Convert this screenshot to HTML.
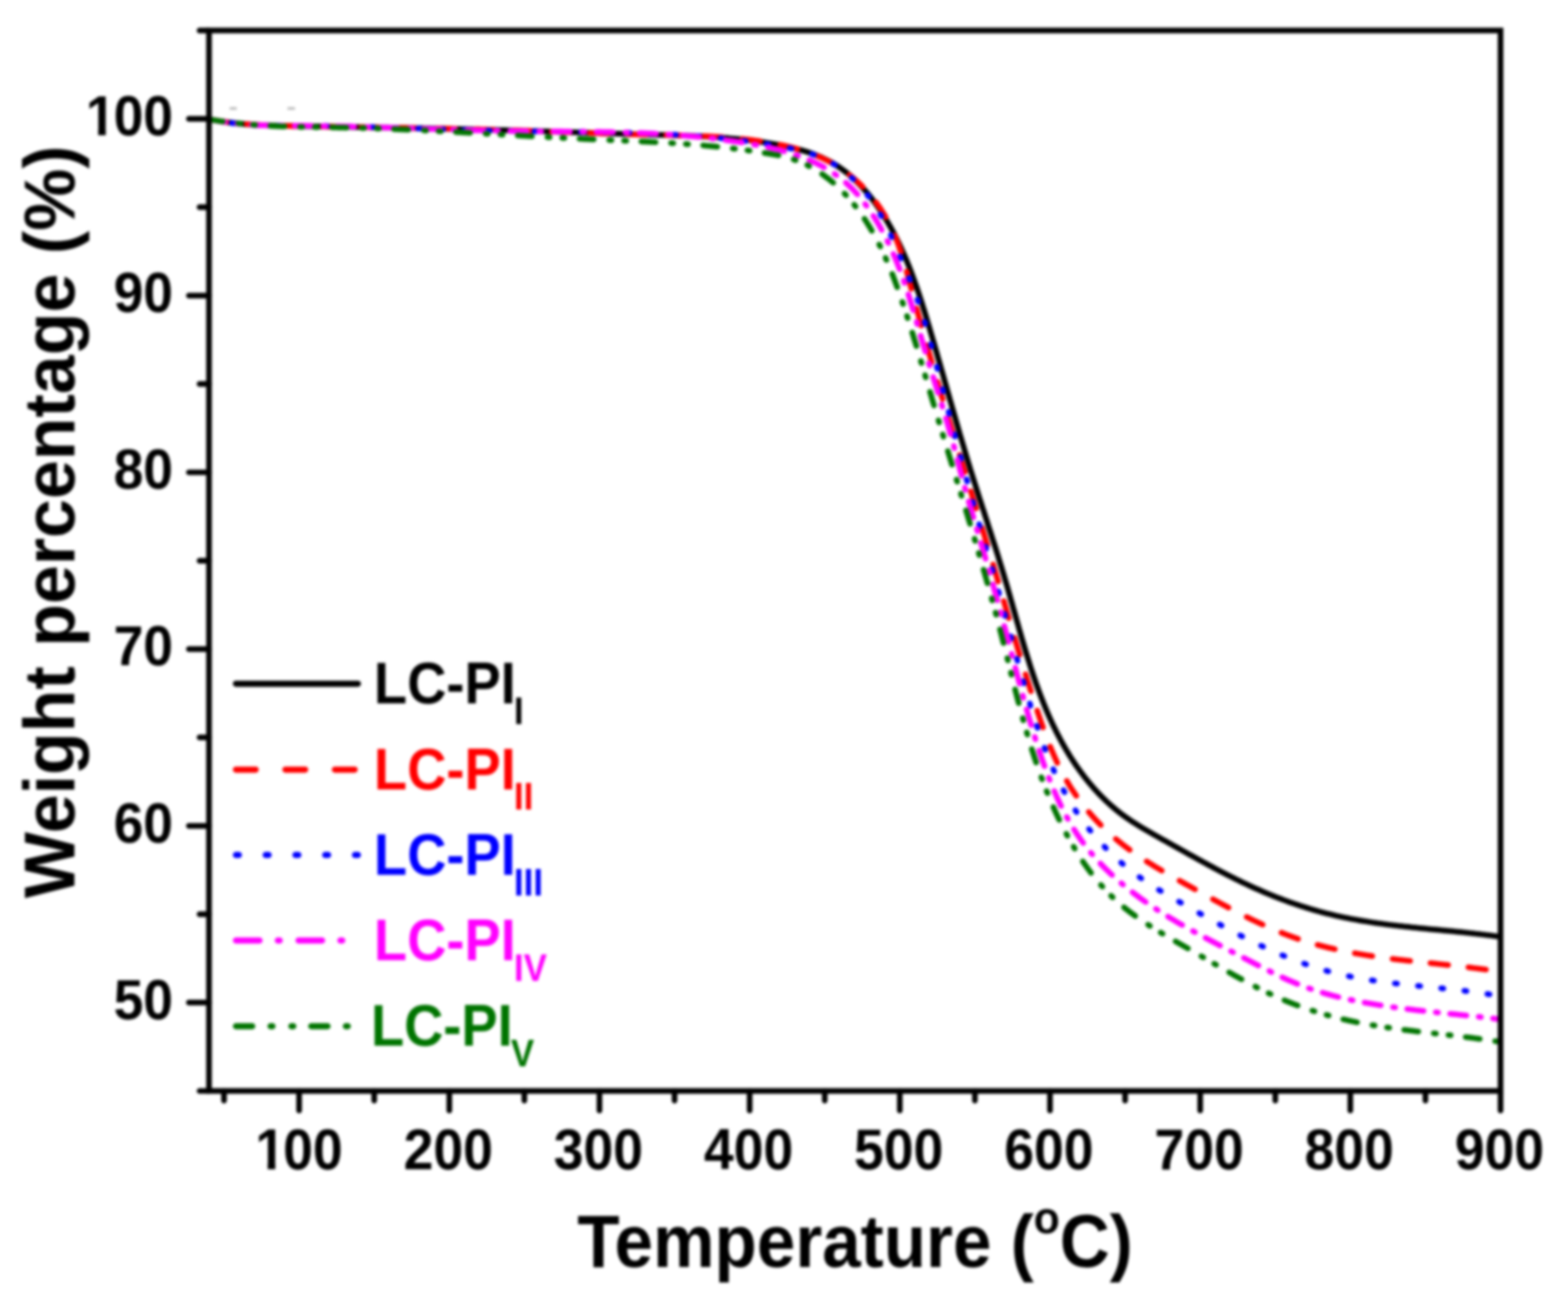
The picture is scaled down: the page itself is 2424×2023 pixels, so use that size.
<!DOCTYPE html><html><head><meta charset="utf-8"><title>TGA curves of LC-PI films</title><style>
html,body{margin:0;padding:0;background:#fff;}body{width:2424px;height:2023px;overflow:hidden;}svg{display:block;}svg{filter:blur(2.2px);}
text{font-family:"Liberation Sans", Arial, sans-serif;font-weight:bold;}
</style></head><body>
<svg width="2424" height="2023" viewBox="0 0 2424 2023">
<rect width="2424" height="2023" fill="#fff"/>
<defs><clipPath id="pc"><rect x="323.1" y="27.1" width="1996.6" height="1658.9"/></clipPath></defs>
<g clip-path="url(#pc)" fill="none" stroke-width="8.7" stroke-linecap="round" stroke-linejoin="round">
<path d="M322.8 184.1 L325.7 184.7 L328.7 185.2 L331.6 185.8 L334.5 186.3 L337.5 186.8 L340.4 187.3 L343.4 187.7 L346.3 188.1 L349.3 188.6 L352.2 189.0 L355.2 189.3 L358.2 189.7 L361.1 190.0 L364.1 190.4 L367.1 190.7 L370.1 191.0 L373.0 191.2 L376.0 191.5 L379.0 191.8 L382.0 192.0 L385.0 192.2 L388.0 192.4 L390.9 192.6 L393.9 192.8 L396.9 193.0 L399.9 193.1 L402.9 193.3 L405.9 193.4 L408.9 193.6 L411.9 193.7 L414.9 193.8 L417.9 193.9 L420.9 194.0 L423.9 194.1 L426.9 194.2 L429.9 194.3 L433.0 194.4 L436.0 194.4 L439.0 194.5 L442.0 194.6 L445.0 194.6 L448.0 194.7 L451.0 194.7 L454.0 194.8 L457.0 194.8 L460.0 194.9 L463.0 194.9 L466.1 195.0 L469.1 195.0 L472.1 195.1 L475.1 195.1 L478.1 195.2 L481.1 195.2 L484.1 195.3 L487.1 195.3 L490.1 195.4 L493.1 195.4 L496.1 195.5 L499.1 195.5 L502.1 195.6 L505.2 195.6 L508.2 195.7 L511.2 195.7 L514.2 195.8 L517.2 195.8 L520.2 195.9 L523.2 195.9 L526.2 196.0 L529.2 196.0 L532.2 196.1 L535.2 196.1 L538.2 196.2 L541.2 196.2 L544.2 196.3 L547.2 196.3 L550.2 196.4 L553.2 196.4 L556.2 196.5 L559.2 196.5 L562.2 196.6 L565.2 196.6 L568.2 196.7 L571.2 196.7 L574.2 196.8 L577.2 196.8 L580.2 196.9 L583.2 196.9 L586.2 197.0 L589.2 197.0 L592.2 197.1 L595.2 197.1 L598.2 197.2 L601.2 197.2 L604.2 197.3 L607.3 197.4 L610.3 197.4 L613.3 197.5 L616.3 197.5 L619.3 197.6 L622.3 197.6 L625.3 197.7 L628.3 197.7 L631.3 197.8 L634.3 197.9 L637.3 197.9 L640.3 198.0 L643.3 198.0 L646.3 198.1 L649.3 198.1 L652.3 198.2 L655.3 198.3 L658.3 198.3 L661.3 198.4 L664.3 198.4 L667.3 198.5 L670.3 198.6 L673.3 198.6 L676.3 198.7 L679.3 198.8 L682.3 198.8 L685.3 198.9 L688.3 198.9 L691.3 199.0 L694.3 199.1 L697.3 199.1 L700.3 199.2 L703.3 199.3 L706.3 199.3 L709.3 199.4 L712.3 199.5 L715.3 199.5 L718.3 199.6 L721.3 199.7 L724.3 199.8 L727.3 199.8 L730.3 199.9 L733.3 200.0 L736.3 200.0 L739.3 200.1 L742.3 200.2 L745.3 200.3 L748.3 200.3 L751.3 200.4 L754.3 200.5 L757.3 200.6 L760.3 200.6 L763.3 200.7 L766.3 200.8 L769.3 200.9 L772.3 201.0 L775.3 201.0 L778.3 201.1 L781.3 201.2 L784.3 201.3 L787.3 201.4 L790.3 201.5 L793.3 201.5 L796.3 201.6 L799.3 201.7 L802.3 201.8 L805.3 201.9 L808.3 202.0 L811.3 202.1 L814.3 202.2 L817.3 202.2 L820.4 202.3 L823.4 202.4 L826.4 202.5 L829.4 202.6 L832.4 202.7 L835.4 202.8 L838.4 202.9 L841.4 203.0 L844.4 203.1 L847.4 203.2 L850.4 203.3 L853.4 203.4 L856.4 203.5 L859.4 203.6 L862.4 203.7 L865.4 203.8 L868.4 203.8 L871.4 203.9 L874.5 204.0 L877.5 204.1 L880.5 204.2 L883.5 204.3 L886.5 204.4 L889.5 204.5 L892.5 204.6 L895.5 204.7 L898.5 204.8 L901.5 204.9 L904.5 205.0 L907.5 205.1 L910.5 205.2 L913.5 205.3 L916.5 205.4 L919.5 205.5 L922.5 205.6 L925.5 205.7 L928.5 205.8 L931.5 205.9 L934.5 206.0 L937.5 206.1 L940.5 206.1 L943.5 206.2 L946.5 206.3 L949.5 206.4 L952.5 206.5 L955.5 206.6 L958.5 206.7 L961.5 206.8 L964.5 206.9 L967.5 207.0 L970.5 207.1 L973.5 207.1 L976.5 207.2 L979.5 207.3 L982.5 207.4 L985.5 207.5 L988.5 207.6 L991.5 207.7 L994.5 207.7 L997.5 207.8 L1000.5 207.9 L1003.5 208.0 L1006.5 208.1 L1009.5 208.1 L1012.5 208.2 L1015.5 208.3 L1018.4 208.4 L1021.4 208.5 L1024.4 208.5 L1027.4 208.6 L1030.4 208.7 L1033.4 208.8 L1036.4 208.9 L1039.4 209.0 L1042.4 209.1 L1045.4 209.1 L1048.3 209.2 L1051.3 209.3 L1054.3 209.4 L1057.3 209.6 L1060.3 209.7 L1063.3 209.8 L1066.3 209.9 L1069.3 210.0 L1072.2 210.1 L1075.2 210.3 L1078.2 210.4 L1081.2 210.6 L1084.2 210.7 L1087.2 210.9 L1090.2 211.0 L1093.2 211.2 L1096.1 211.4 L1099.1 211.5 L1102.1 211.7 L1105.1 211.9 L1108.1 212.1 L1111.1 212.3 L1114.1 212.5 L1117.0 212.8 L1120.0 213.0 L1123.0 213.2 L1126.0 213.5 L1129.0 213.8 L1132.0 214.0 L1135.0 214.3 L1138.0 214.6 L1141.0 214.9 L1143.9 215.2 L1146.9 215.5 L1149.9 215.9 L1152.9 216.2 L1155.9 216.5 L1158.9 216.9 L1161.9 217.3 L1164.9 217.7 L1167.9 218.1 L1170.9 218.5 L1173.9 218.9 L1176.9 219.4 L1179.9 219.8 L1182.8 220.3 L1185.8 220.7 L1188.8 221.2 L1191.8 221.7 L1194.8 222.3 L1197.8 222.8 L1200.8 223.4 L1203.8 223.9 L1206.8 224.5 L1209.8 225.1 L1212.8 225.7 L1215.8 226.4 L1218.8 227.0 L1221.8 227.7 L1224.7 228.4 L1227.7 229.1 L1230.7 229.9 L1233.6 230.6 L1236.5 231.5 L1239.5 232.3 L1242.4 233.1 L1245.3 234.0 L1248.2 234.9 L1251.0 235.9 L1253.9 236.9 L1256.7 237.9 L1259.5 239.0 L1262.3 240.0 L1265.1 241.2 L1267.9 242.3 L1270.6 243.5 L1273.3 244.8 L1276.0 246.1 L1278.6 247.4 L1281.3 248.8 L1283.9 250.2 L1286.4 251.6 L1289.0 253.1 L1291.5 254.7 L1294.0 256.2 L1296.5 257.9 L1298.9 259.5 L1301.3 261.2 L1303.7 263.0 L1306.0 264.8 L1308.4 266.6 L1310.7 268.4 L1313.0 270.3 L1315.2 272.3 L1317.4 274.2 L1319.6 276.2 L1321.8 278.2 L1324.0 280.3 L1326.1 282.4 L1328.2 284.5 L1330.3 286.6 L1332.3 288.8 L1334.3 291.0 L1336.3 293.2 L1338.3 295.5 L1340.3 297.8 L1342.2 300.1 L1344.1 302.4 L1346.0 304.7 L1347.8 307.1 L1349.7 309.5 L1351.5 311.9 L1353.3 314.3 L1355.0 316.8 L1356.8 319.3 L1358.5 321.7 L1360.2 324.2 L1361.9 326.7 L1363.5 329.3 L1365.2 331.8 L1366.8 334.4 L1368.4 336.9 L1369.9 339.5 L1371.5 342.1 L1373.0 344.7 L1374.5 347.3 L1376.0 349.9 L1377.5 352.5 L1378.9 355.2 L1380.4 357.8 L1381.8 360.5 L1383.2 363.1 L1384.5 365.8 L1385.9 368.5 L1387.2 371.1 L1388.5 373.8 L1389.8 376.5 L1391.1 379.2 L1392.4 381.9 L1393.7 384.7 L1394.9 387.4 L1396.1 390.1 L1397.3 392.9 L1398.5 395.6 L1399.7 398.4 L1400.9 401.1 L1402.0 403.9 L1403.1 406.7 L1404.3 409.5 L1405.4 412.2 L1406.5 415.0 L1407.6 417.8 L1408.6 420.6 L1409.7 423.4 L1410.7 426.3 L1411.8 429.1 L1412.8 431.9 L1413.8 434.7 L1414.8 437.6 L1415.8 440.4 L1416.8 443.2 L1417.8 446.1 L1418.7 448.9 L1419.7 451.8 L1420.7 454.6 L1421.6 457.5 L1422.5 460.3 L1423.5 463.2 L1424.4 466.1 L1425.3 468.9 L1426.2 471.8 L1427.1 474.7 L1428.0 477.6 L1428.9 480.4 L1429.8 483.3 L1430.7 486.2 L1431.5 489.1 L1432.4 492.0 L1433.3 494.9 L1434.1 497.7 L1435.0 500.6 L1435.9 503.5 L1436.7 506.4 L1437.6 509.3 L1438.4 512.2 L1439.3 515.1 L1440.1 518.0 L1441.0 520.9 L1441.8 523.8 L1442.6 526.7 L1443.5 529.5 L1444.3 532.4 L1445.2 535.3 L1446.0 538.2 L1446.8 541.1 L1447.7 544.0 L1448.5 546.9 L1449.3 549.8 L1450.1 552.7 L1451.0 555.6 L1451.8 558.5 L1452.6 561.4 L1453.5 564.3 L1454.3 567.2 L1455.1 570.1 L1455.9 573.0 L1456.7 575.9 L1457.6 578.8 L1458.4 581.6 L1459.2 584.5 L1460.0 587.4 L1460.8 590.3 L1461.7 593.2 L1462.5 596.1 L1463.3 599.0 L1464.1 601.9 L1464.9 604.8 L1465.8 607.7 L1466.6 610.6 L1467.4 613.5 L1468.2 616.4 L1469.0 619.2 L1469.9 622.1 L1470.7 625.0 L1471.5 627.9 L1472.3 630.8 L1473.2 633.7 L1474.0 636.6 L1474.8 639.5 L1475.6 642.4 L1476.5 645.2 L1477.3 648.1 L1478.1 651.0 L1478.9 653.9 L1479.8 656.8 L1480.6 659.7 L1481.4 662.5 L1482.3 665.4 L1483.1 668.3 L1483.9 671.2 L1484.8 674.1 L1485.6 676.9 L1486.5 679.8 L1487.3 682.7 L1488.2 685.6 L1489.0 688.4 L1489.9 691.3 L1490.7 694.2 L1491.6 697.1 L1492.4 699.9 L1493.3 702.8 L1494.1 705.7 L1495.0 708.5 L1495.9 711.4 L1496.7 714.3 L1497.6 717.1 L1498.5 720.0 L1499.4 722.9 L1500.2 725.7 L1501.1 728.6 L1502.0 731.4 L1502.9 734.3 L1503.8 737.1 L1504.7 740.0 L1505.6 742.8 L1506.5 745.7 L1507.4 748.5 L1508.3 751.4 L1509.2 754.2 L1510.1 757.1 L1511.0 759.9 L1511.9 762.8 L1512.8 765.6 L1513.7 768.5 L1514.6 771.3 L1515.6 774.2 L1516.5 777.0 L1517.4 779.9 L1518.3 782.7 L1519.2 785.6 L1520.2 788.4 L1521.1 791.2 L1522.0 794.1 L1522.9 796.9 L1523.8 799.8 L1524.8 802.6 L1525.7 805.5 L1526.6 808.3 L1527.5 811.2 L1528.4 814.0 L1529.3 816.9 L1530.3 819.7 L1531.2 822.6 L1532.1 825.4 L1533.0 828.3 L1533.9 831.1 L1534.8 834.0 L1535.7 836.8 L1536.7 839.7 L1537.6 842.5 L1538.5 845.4 L1539.4 848.2 L1540.3 851.1 L1541.2 854.0 L1542.1 856.8 L1543.0 859.7 L1543.8 862.6 L1544.7 865.4 L1545.6 868.3 L1546.5 871.2 L1547.4 874.0 L1548.3 876.9 L1549.1 879.8 L1550.0 882.7 L1550.9 885.6 L1551.7 888.4 L1552.6 891.3 L1553.4 894.2 L1554.3 897.1 L1555.1 900.0 L1556.0 902.9 L1556.8 905.8 L1557.7 908.7 L1558.5 911.6 L1559.3 914.5 L1560.1 917.4 L1561.0 920.3 L1561.8 923.2 L1562.6 926.1 L1563.4 929.0 L1564.3 931.9 L1565.1 934.8 L1565.9 937.8 L1566.7 940.7 L1567.5 943.6 L1568.4 946.5 L1569.2 949.4 L1570.0 952.3 L1570.8 955.2 L1571.6 958.1 L1572.4 961.1 L1573.3 964.0 L1574.1 966.9 L1574.9 969.8 L1575.7 972.7 L1576.6 975.6 L1577.4 978.5 L1578.2 981.4 L1579.1 984.3 L1579.9 987.2 L1580.8 990.1 L1581.6 993.0 L1582.5 995.9 L1583.3 998.8 L1584.2 1001.7 L1585.1 1004.6 L1585.9 1007.5 L1586.8 1010.4 L1587.7 1013.3 L1588.6 1016.2 L1589.5 1019.0 L1590.4 1021.9 L1591.3 1024.8 L1592.2 1027.7 L1593.1 1030.5 L1594.0 1033.4 L1595.0 1036.2 L1595.9 1039.1 L1596.9 1042.0 L1597.8 1044.8 L1598.8 1047.6 L1599.8 1050.5 L1600.7 1053.3 L1601.7 1056.2 L1602.7 1059.0 L1603.8 1061.8 L1604.8 1064.6 L1605.8 1067.4 L1606.8 1070.2 L1607.9 1073.0 L1609.0 1075.8 L1610.0 1078.6 L1611.1 1081.4 L1612.2 1084.2 L1613.3 1087.0 L1614.4 1089.7 L1615.6 1092.5 L1616.7 1095.3 L1617.9 1098.0 L1619.0 1100.8 L1620.2 1103.5 L1621.4 1106.2 L1622.6 1109.0 L1623.8 1111.7 L1625.1 1114.4 L1626.3 1117.1 L1627.6 1119.8 L1628.9 1122.5 L1630.2 1125.2 L1631.5 1127.8 L1632.8 1130.5 L1634.2 1133.2 L1635.5 1135.8 L1636.9 1138.4 L1638.3 1141.1 L1639.7 1143.7 L1641.1 1146.3 L1642.5 1148.9 L1644.0 1151.5 L1645.5 1154.1 L1647.0 1156.7 L1648.5 1159.3 L1650.0 1161.8 L1651.6 1164.4 L1653.1 1166.9 L1654.7 1169.5 L1656.3 1172.0 L1657.9 1174.5 L1659.6 1177.0 L1661.2 1179.5 L1662.9 1182.0 L1664.6 1184.5 L1666.4 1186.9 L1668.1 1189.4 L1669.9 1191.8 L1671.7 1194.3 L1673.5 1196.7 L1675.3 1199.1 L1677.1 1201.5 L1679.0 1203.8 L1680.9 1206.2 L1682.8 1208.5 L1684.7 1210.9 L1686.7 1213.2 L1688.7 1215.5 L1690.6 1217.8 L1692.6 1220.0 L1694.7 1222.2 L1696.7 1224.5 L1698.8 1226.7 L1700.9 1228.8 L1703.0 1231.0 L1705.1 1233.1 L1707.3 1235.2 L1709.4 1237.3 L1711.6 1239.4 L1713.8 1241.4 L1716.1 1243.5 L1718.3 1245.5 L1720.6 1247.4 L1722.9 1249.4 L1725.2 1251.3 L1727.5 1253.2 L1729.8 1255.0 L1732.2 1256.9 L1734.6 1258.7 L1737.0 1260.4 L1739.4 1262.2 L1741.8 1263.9 L1744.3 1265.6 L1746.7 1267.3 L1749.2 1269.0 L1751.7 1270.6 L1754.2 1272.2 L1756.8 1273.8 L1759.3 1275.4 L1761.8 1277.0 L1764.4 1278.5 L1767.0 1280.1 L1769.5 1281.6 L1772.1 1283.1 L1774.7 1284.6 L1777.3 1286.1 L1779.9 1287.6 L1782.5 1289.1 L1785.1 1290.5 L1787.8 1292.0 L1790.4 1293.5 L1793.0 1295.0 L1795.6 1296.4 L1798.2 1297.9 L1800.9 1299.3 L1803.5 1300.8 L1806.1 1302.3 L1808.7 1303.7 L1811.4 1305.2 L1814.0 1306.7 L1816.6 1308.2 L1819.2 1309.6 L1821.9 1311.1 L1824.5 1312.6 L1827.1 1314.0 L1829.8 1315.5 L1832.4 1317.0 L1835.0 1318.4 L1837.6 1319.9 L1840.3 1321.4 L1842.9 1322.8 L1845.5 1324.3 L1848.2 1325.8 L1850.8 1327.2 L1853.4 1328.7 L1856.1 1330.1 L1858.7 1331.6 L1861.4 1333.0 L1864.0 1334.4 L1866.7 1335.9 L1869.3 1337.3 L1872.0 1338.7 L1874.6 1340.1 L1877.3 1341.6 L1879.9 1343.0 L1882.6 1344.4 L1885.3 1345.8 L1887.9 1347.2 L1890.6 1348.6 L1893.3 1349.9 L1895.9 1351.3 L1898.6 1352.7 L1901.3 1354.0 L1904.0 1355.4 L1906.7 1356.7 L1909.3 1358.1 L1912.0 1359.4 L1914.7 1360.7 L1917.4 1362.0 L1920.1 1363.3 L1922.8 1364.6 L1925.6 1365.9 L1928.3 1367.2 L1931.0 1368.5 L1933.7 1369.7 L1936.4 1371.0 L1939.2 1372.2 L1941.9 1373.4 L1944.7 1374.6 L1947.4 1375.8 L1950.2 1377.0 L1952.9 1378.2 L1955.7 1379.4 L1958.4 1380.5 L1961.2 1381.7 L1964.0 1382.8 L1966.7 1384.0 L1969.5 1385.1 L1972.3 1386.2 L1975.1 1387.3 L1977.9 1388.3 L1980.7 1389.4 L1983.5 1390.5 L1986.3 1391.5 L1989.1 1392.5 L1991.9 1393.6 L1994.7 1394.6 L1997.6 1395.5 L2000.4 1396.5 L2003.2 1397.5 L2006.1 1398.4 L2008.9 1399.4 L2011.7 1400.3 L2014.6 1401.2 L2017.4 1402.1 L2020.3 1403.0 L2023.2 1403.9 L2026.0 1404.8 L2028.9 1405.6 L2031.8 1406.5 L2034.6 1407.3 L2037.5 1408.1 L2040.4 1408.9 L2043.3 1409.7 L2046.2 1410.4 L2049.1 1411.2 L2052.0 1411.9 L2054.9 1412.6 L2057.8 1413.3 L2060.7 1414.0 L2063.6 1414.7 L2066.5 1415.4 L2069.4 1416.0 L2072.4 1416.7 L2075.3 1417.3 L2078.2 1417.9 L2081.2 1418.5 L2084.1 1419.1 L2087.0 1419.7 L2090.0 1420.2 L2092.9 1420.8 L2095.9 1421.3 L2098.8 1421.8 L2101.8 1422.4 L2104.8 1422.9 L2107.7 1423.4 L2110.7 1423.8 L2113.7 1424.3 L2116.6 1424.8 L2119.6 1425.2 L2122.6 1425.7 L2125.5 1426.1 L2128.5 1426.6 L2131.5 1427.0 L2134.5 1427.4 L2137.5 1427.8 L2140.4 1428.2 L2143.4 1428.6 L2146.4 1429.0 L2149.4 1429.3 L2152.4 1429.7 L2155.4 1430.1 L2158.4 1430.4 L2161.4 1430.8 L2164.4 1431.1 L2167.4 1431.4 L2170.4 1431.8 L2173.4 1432.1 L2176.4 1432.4 L2179.4 1432.7 L2182.4 1433.1 L2185.4 1433.4 L2188.4 1433.7 L2191.4 1434.0 L2194.4 1434.3 L2197.4 1434.6 L2200.4 1434.9 L2203.4 1435.2 L2206.4 1435.5 L2209.4 1435.8 L2212.4 1436.1 L2215.4 1436.3 L2218.4 1436.6 L2221.4 1436.9 L2224.4 1437.2 L2227.4 1437.5 L2230.4 1437.8 L2233.4 1438.1 L2236.4 1438.4 L2239.4 1438.7 L2242.3 1438.9 L2245.3 1439.2 L2248.3 1439.5 L2251.3 1439.8 L2254.3 1440.1 L2257.3 1440.4 L2260.3 1440.7 L2263.3 1441.0 L2266.3 1441.3 L2269.2 1441.7 L2272.2 1442.0 L2275.2 1442.3 L2278.2 1442.6 L2281.1 1443.0 L2284.1 1443.3 L2287.1 1443.6 L2290.1 1444.0 L2293.0 1444.3 L2296.0 1444.7 L2298.9 1445.1 L2301.9 1445.4 L2304.8 1445.8 L2307.8 1446.2 L2310.7 1446.6 L2313.7 1447.0 L2316.6 1447.4 L2319.6 1447.8" stroke="#000"/>
<path d="M322.8 184.2 L325.7 184.8 L328.6 185.3 L331.6 185.8 L334.5 186.3 L337.5 186.8 L340.4 187.2 L343.4 187.7 L346.3 188.1 L349.3 188.5 L352.3 188.9 L355.2 189.2 L358.2 189.6 L361.2 189.9 L364.1 190.2 L367.1 190.5 L370.1 190.8 L373.1 191.1 L376.0 191.3 L379.0 191.6 L382.0 191.8 L385.0 192.0 L388.0 192.3 L391.0 192.5 L393.9 192.7 L396.9 192.8 L399.9 193.0 L402.9 193.2 L405.9 193.3 L408.9 193.5 L411.9 193.6 L414.9 193.7 L417.9 193.8 L420.9 193.9 L423.9 194.0 L426.9 194.1 L429.9 194.2 L432.9 194.3 L435.9 194.4 L438.9 194.5 L441.9 194.6 L444.9 194.6 L447.9 194.7 L450.9 194.8 L453.9 194.8 L456.9 194.9 L459.9 194.9 L462.9 195.0 L465.9 195.1 L468.9 195.1 L471.9 195.2 L475.0 195.2 L478.0 195.3 L481.0 195.3 L484.0 195.4 L487.0 195.4 L490.0 195.5 L493.0 195.5 L496.0 195.6 L499.0 195.6 L502.0 195.7 L505.0 195.8 L508.0 195.8 L511.0 195.9 L514.0 195.9 L517.0 196.0 L520.0 196.0 L523.0 196.0 L526.0 196.1 L529.0 196.1 L532.0 196.2 L535.0 196.2 L538.1 196.3 L541.1 196.3 L544.1 196.4 L547.1 196.4 L550.1 196.5 L553.1 196.5 L556.1 196.6 L559.1 196.6 L562.1 196.7 L565.1 196.7 L568.1 196.8 L571.1 196.8 L574.1 196.9 L577.1 196.9 L580.1 196.9 L583.1 197.0 L586.1 197.0 L589.1 197.1 L592.1 197.1 L595.1 197.2 L598.1 197.2 L601.1 197.3 L604.1 197.3 L607.1 197.4 L610.1 197.4 L613.2 197.5 L616.2 197.5 L619.2 197.6 L622.2 197.6 L625.2 197.7 L628.2 197.7 L631.2 197.8 L634.2 197.8 L637.2 197.9 L640.2 197.9 L643.2 198.0 L646.2 198.0 L649.2 198.1 L652.2 198.1 L655.2 198.2 L658.2 198.2 L661.2 198.3 L664.2 198.3 L667.2 198.4 L670.2 198.5 L673.2 198.5 L676.2 198.6 L679.2 198.6 L682.2 198.7 L685.2 198.7 L688.2 198.8 L691.2 198.9 L694.2 198.9 L697.2 199.0 L700.2 199.0 L703.2 199.1 L706.2 199.2 L709.2 199.2 L712.2 199.3 L715.2 199.4 L718.2 199.4 L721.2 199.5 L724.2 199.6 L727.2 199.6 L730.2 199.7 L733.2 199.8 L736.2 199.8 L739.2 199.9 L742.2 200.0 L745.2 200.1 L748.2 200.1 L751.2 200.2 L754.2 200.3 L757.2 200.4 L760.2 200.5 L763.2 200.5 L766.2 200.6 L769.2 200.7 L772.2 200.8 L775.2 200.9 L778.2 201.0 L781.2 201.1 L784.2 201.1 L787.2 201.2 L790.2 201.3 L793.2 201.4 L796.2 201.5 L799.2 201.6 L802.2 201.7 L805.2 201.8 L808.2 201.9 L811.1 202.0 L814.1 202.1 L817.1 202.2 L820.1 202.3 L823.1 202.4 L826.1 202.5 L829.1 202.6 L832.1 202.7 L835.1 202.8 L838.1 202.9 L841.1 203.0 L844.1 203.1 L847.1 203.2 L850.1 203.4 L853.1 203.5 L856.1 203.6 L859.1 203.7 L862.1 203.8 L865.1 203.9 L868.1 204.0 L871.1 204.1 L874.0 204.2 L877.0 204.3 L880.0 204.4 L883.0 204.5 L886.0 204.6 L889.0 204.8 L892.0 204.9 L895.0 205.0 L898.0 205.1 L901.0 205.2 L904.0 205.3 L907.0 205.4 L910.0 205.5 L913.0 205.6 L916.0 205.7 L919.0 205.8 L922.0 205.9 L925.0 206.0 L928.0 206.1 L931.0 206.2 L934.0 206.3 L937.0 206.4 L940.0 206.5 L943.0 206.6 L946.0 206.7 L949.0 206.8 L952.0 206.9 L955.0 207.0 L958.0 207.1 L961.0 207.1 L964.0 207.2 L967.0 207.3 L970.0 207.4 L973.0 207.5 L976.0 207.6 L979.0 207.6 L982.0 207.7 L985.0 207.8 L988.0 207.9 L991.0 207.9 L994.0 208.0 L997.0 208.1 L1000.0 208.1 L1003.0 208.2 L1006.1 208.3 L1009.1 208.3 L1012.1 208.4 L1015.1 208.4 L1018.1 208.5 L1021.1 208.6 L1024.1 208.6 L1027.1 208.7 L1030.1 208.7 L1033.1 208.8 L1036.1 208.8 L1039.2 208.9 L1042.2 209.0 L1045.2 209.0 L1048.2 209.1 L1051.2 209.2 L1054.2 209.3 L1057.2 209.3 L1060.2 209.4 L1063.2 209.5 L1066.2 209.6 L1069.2 209.7 L1072.2 209.8 L1075.3 209.9 L1078.3 210.0 L1081.3 210.1 L1084.3 210.2 L1087.3 210.4 L1090.3 210.5 L1093.3 210.6 L1096.3 210.8 L1099.3 210.9 L1102.3 211.1 L1105.3 211.3 L1108.3 211.4 L1111.3 211.6 L1114.3 211.8 L1117.3 212.0 L1120.3 212.2 L1123.3 212.5 L1126.3 212.7 L1129.3 212.9 L1132.2 213.2 L1135.2 213.5 L1138.2 213.7 L1141.2 214.0 L1144.2 214.3 L1147.2 214.6 L1150.2 215.0 L1153.2 215.3 L1156.1 215.6 L1159.1 216.0 L1162.1 216.4 L1165.1 216.8 L1168.0 217.2 L1171.0 217.6 L1174.0 218.0 L1177.0 218.5 L1179.9 218.9 L1182.9 219.4 L1185.9 219.9 L1188.8 220.4 L1191.8 220.9 L1194.7 221.5 L1197.7 222.0 L1200.7 222.6 L1203.6 223.2 L1206.6 223.8 L1209.5 224.5 L1212.5 225.1 L1215.4 225.8 L1218.3 226.5 L1221.3 227.2 L1224.2 228.0 L1227.1 228.7 L1230.0 229.5 L1232.9 230.3 L1235.8 231.2 L1238.7 232.0 L1241.5 232.9 L1244.4 233.9 L1247.2 234.8 L1250.1 235.8 L1252.9 236.8 L1255.7 237.9 L1258.5 238.9 L1261.3 240.1 L1264.0 241.2 L1266.8 242.4 L1269.5 243.6 L1272.2 244.8 L1274.9 246.1 L1277.6 247.5 L1280.2 248.8 L1282.9 250.2 L1285.5 251.7 L1288.1 253.2 L1290.7 254.7 L1293.2 256.2 L1295.8 257.8 L1298.3 259.5 L1300.7 261.1 L1303.2 262.9 L1305.7 264.6 L1308.1 266.4 L1310.5 268.2 L1312.8 270.0 L1315.2 271.9 L1317.5 273.8 L1319.8 275.8 L1322.1 277.7 L1324.3 279.7 L1326.5 281.8 L1328.7 283.8 L1330.9 285.9 L1333.0 288.0 L1335.1 290.2 L1337.2 292.4 L1339.2 294.6 L1341.3 296.8 L1343.2 299.1 L1345.2 301.4 L1347.1 303.7 L1349.0 306.0 L1350.9 308.4 L1352.7 310.7 L1354.6 313.1 L1356.3 315.6 L1358.1 318.0 L1359.8 320.5 L1361.5 323.0 L1363.1 325.5 L1364.7 328.0 L1366.3 330.5 L1367.8 333.1 L1369.3 335.7 L1370.8 338.3 L1372.3 340.9 L1373.7 343.5 L1375.0 346.2 L1376.4 348.9 L1377.7 351.5 L1378.9 354.2 L1380.2 356.9 L1381.4 359.6 L1382.5 362.4 L1383.7 365.1 L1384.8 367.9 L1385.9 370.7 L1387.0 373.4 L1388.0 376.2 L1389.1 379.0 L1390.1 381.8 L1391.0 384.7 L1392.0 387.5 L1392.9 390.3 L1393.9 393.2 L1394.8 396.0 L1395.7 398.9 L1396.5 401.8 L1397.4 404.6 L1398.3 407.5 L1399.1 410.4 L1399.9 413.3 L1400.7 416.2 L1401.5 419.1 L1402.3 422.0 L1403.1 424.9 L1403.9 427.8 L1404.7 430.7 L1405.5 433.7 L1406.2 436.6 L1407.0 439.5 L1407.8 442.4 L1408.5 445.3 L1409.3 448.3 L1410.1 451.2 L1410.9 454.1 L1411.6 457.0 L1412.4 459.9 L1413.2 462.8 L1414.0 465.7 L1414.7 468.7 L1415.5 471.6 L1416.3 474.5 L1417.1 477.4 L1417.9 480.3 L1418.7 483.2 L1419.5 486.1 L1420.3 489.0 L1421.1 491.9 L1421.9 494.8 L1422.7 497.7 L1423.5 500.6 L1424.3 503.5 L1425.1 506.4 L1425.9 509.3 L1426.7 512.2 L1427.5 515.1 L1428.4 518.0 L1429.2 520.9 L1430.0 523.8 L1430.8 526.7 L1431.6 529.6 L1432.5 532.5 L1433.3 535.4 L1434.1 538.3 L1435.0 541.1 L1435.8 544.0 L1436.6 546.9 L1437.5 549.8 L1438.3 552.7 L1439.1 555.6 L1440.0 558.5 L1440.8 561.4 L1441.6 564.2 L1442.5 567.1 L1443.3 570.0 L1444.2 572.9 L1445.0 575.8 L1445.9 578.7 L1446.7 581.5 L1447.6 584.4 L1448.4 587.3 L1449.3 590.2 L1450.1 593.0 L1451.0 595.9 L1451.8 598.8 L1452.7 601.7 L1453.6 604.6 L1454.4 607.4 L1455.3 610.3 L1456.1 613.2 L1457.0 616.1 L1457.9 618.9 L1458.7 621.8 L1459.6 624.7 L1460.5 627.5 L1461.3 630.4 L1462.2 633.3 L1463.1 636.2 L1463.9 639.0 L1464.8 641.9 L1465.7 644.8 L1466.6 647.6 L1467.4 650.5 L1468.3 653.4 L1469.2 656.3 L1470.1 659.1 L1470.9 662.0 L1471.8 664.9 L1472.7 667.7 L1473.6 670.6 L1474.4 673.5 L1475.3 676.3 L1476.2 679.2 L1477.1 682.1 L1478.0 684.9 L1478.8 687.8 L1479.7 690.7 L1480.6 693.5 L1481.5 696.4 L1482.4 699.2 L1483.2 702.1 L1484.1 705.0 L1485.0 707.8 L1485.9 710.7 L1486.8 713.6 L1487.6 716.4 L1488.5 719.3 L1489.4 722.2 L1490.3 725.0 L1491.2 727.9 L1492.1 730.8 L1492.9 733.6 L1493.8 736.5 L1494.7 739.3 L1495.6 742.2 L1496.5 745.1 L1497.4 747.9 L1498.2 750.8 L1499.1 753.7 L1500.0 756.5 L1500.9 759.4 L1501.8 762.3 L1502.6 765.1 L1503.5 768.0 L1504.4 770.8 L1505.3 773.7 L1506.2 776.6 L1507.0 779.4 L1507.9 782.3 L1508.8 785.2 L1509.7 788.0 L1510.6 790.9 L1511.4 793.8 L1512.3 796.6 L1513.2 799.5 L1514.1 802.4 L1514.9 805.2 L1515.8 808.1 L1516.7 810.9 L1517.6 813.8 L1518.4 816.7 L1519.3 819.5 L1520.2 822.4 L1521.1 825.3 L1521.9 828.1 L1522.8 831.0 L1523.7 833.9 L1524.5 836.8 L1525.4 839.6 L1526.3 842.5 L1527.1 845.4 L1528.0 848.2 L1528.8 851.1 L1529.7 854.0 L1530.6 856.8 L1531.4 859.7 L1532.3 862.6 L1533.1 865.5 L1534.0 868.3 L1534.9 871.2 L1535.7 874.1 L1536.6 877.0 L1537.4 879.8 L1538.3 882.7 L1539.1 885.6 L1540.0 888.5 L1540.8 891.3 L1541.7 894.2 L1542.5 897.1 L1543.4 900.0 L1544.2 902.8 L1545.0 905.7 L1545.9 908.6 L1546.7 911.5 L1547.6 914.4 L1548.4 917.2 L1549.2 920.1 L1550.1 923.0 L1550.9 925.9 L1551.8 928.8 L1552.6 931.6 L1553.4 934.5 L1554.3 937.4 L1555.1 940.3 L1556.0 943.2 L1556.8 946.0 L1557.6 948.9 L1558.5 951.8 L1559.3 954.7 L1560.2 957.6 L1561.0 960.4 L1561.9 963.3 L1562.7 966.2 L1563.5 969.1 L1564.4 972.0 L1565.2 974.8 L1566.1 977.7 L1566.9 980.6 L1567.8 983.5 L1568.6 986.4 L1569.5 989.3 L1570.3 992.1 L1571.2 995.0 L1572.1 997.9 L1572.9 1000.8 L1573.8 1003.6 L1574.6 1006.5 L1575.5 1009.4 L1576.4 1012.3 L1577.2 1015.2 L1578.1 1018.0 L1579.0 1020.9 L1579.8 1023.8 L1580.7 1026.7 L1581.6 1029.5 L1582.5 1032.4 L1583.4 1035.3 L1584.2 1038.2 L1585.1 1041.0 L1586.0 1043.9 L1586.9 1046.8 L1587.8 1049.7 L1588.7 1052.5 L1589.6 1055.4 L1590.5 1058.3 L1591.4 1061.1 L1592.3 1064.0 L1593.2 1066.9 L1594.1 1069.7 L1595.1 1072.6 L1596.0 1075.5 L1596.9 1078.3 L1597.8 1081.2 L1598.8 1084.1 L1599.7 1086.9 L1600.7 1089.8 L1601.6 1092.7 L1602.5 1095.5 L1603.5 1098.4 L1604.4 1101.2 L1605.4 1104.1 L1606.4 1106.9 L1607.3 1109.8 L1608.3 1112.6 L1609.3 1115.5 L1610.3 1118.3 L1611.3 1121.2 L1612.3 1124.0 L1613.3 1126.9 L1614.3 1129.7 L1615.4 1132.5 L1616.4 1135.3 L1617.4 1138.2 L1618.5 1141.0 L1619.6 1143.8 L1620.7 1146.6 L1621.8 1149.4 L1622.9 1152.2 L1624.0 1155.0 L1625.1 1157.7 L1626.3 1160.5 L1627.5 1163.3 L1628.7 1166.0 L1629.9 1168.7 L1631.1 1171.5 L1632.3 1174.2 L1633.6 1176.9 L1634.8 1179.6 L1636.1 1182.3 L1637.4 1185.0 L1638.8 1187.7 L1640.1 1190.3 L1641.5 1193.0 L1642.9 1195.6 L1644.3 1198.3 L1645.7 1200.9 L1647.2 1203.5 L1648.7 1206.1 L1650.2 1208.6 L1651.7 1211.2 L1653.2 1213.7 L1654.8 1216.3 L1656.4 1218.8 L1658.0 1221.3 L1659.7 1223.8 L1661.4 1226.3 L1663.1 1228.7 L1664.8 1231.2 L1666.5 1233.6 L1668.3 1236.0 L1670.0 1238.4 L1671.9 1240.8 L1673.7 1243.2 L1675.5 1245.5 L1677.4 1247.9 L1679.3 1250.2 L1681.2 1252.5 L1683.1 1254.8 L1685.0 1257.1 L1687.0 1259.3 L1689.0 1261.6 L1691.0 1263.8 L1693.0 1266.0 L1695.1 1268.2 L1697.1 1270.4 L1699.2 1272.5 L1701.3 1274.7 L1703.4 1276.8 L1705.6 1278.9 L1707.7 1281.0 L1709.9 1283.1 L1712.1 1285.1 L1714.3 1287.1 L1716.5 1289.1 L1718.7 1291.1 L1721.0 1293.1 L1723.2 1295.1 L1725.5 1297.0 L1727.8 1298.9 L1730.1 1300.8 L1732.4 1302.7 L1734.8 1304.6 L1737.1 1306.4 L1739.5 1308.2 L1741.9 1310.0 L1744.3 1311.8 L1746.7 1313.6 L1749.1 1315.3 L1751.5 1317.1 L1754.0 1318.8 L1756.4 1320.5 L1758.9 1322.2 L1761.4 1323.9 L1763.9 1325.5 L1766.4 1327.2 L1768.9 1328.8 L1771.4 1330.4 L1773.9 1332.0 L1776.5 1333.6 L1779.0 1335.2 L1781.6 1336.8 L1784.1 1338.4 L1786.7 1339.9 L1789.3 1341.5 L1791.9 1343.0 L1794.5 1344.6 L1797.1 1346.1 L1799.7 1347.6 L1802.3 1349.1 L1804.9 1350.6 L1807.5 1352.1 L1810.1 1353.6 L1812.7 1355.1 L1815.4 1356.6 L1818.0 1358.0 L1820.6 1359.5 L1823.3 1361.0 L1825.9 1362.5 L1828.5 1363.9 L1831.2 1365.4 L1833.8 1366.9 L1836.5 1368.3 L1839.1 1369.8 L1841.7 1371.2 L1844.4 1372.7 L1847.0 1374.2 L1849.7 1375.6 L1852.3 1377.1 L1854.9 1378.6 L1857.6 1380.0 L1860.2 1381.5 L1862.9 1382.9 L1865.5 1384.4 L1868.2 1385.8 L1870.8 1387.3 L1873.4 1388.8 L1876.1 1390.2 L1878.7 1391.7 L1881.4 1393.1 L1884.0 1394.5 L1886.7 1396.0 L1889.3 1397.4 L1892.0 1398.8 L1894.6 1400.2 L1897.3 1401.7 L1900.0 1403.1 L1902.6 1404.5 L1905.3 1405.9 L1907.9 1407.3 L1910.6 1408.7 L1913.3 1410.0 L1916.0 1411.4 L1918.6 1412.8 L1921.3 1414.1 L1924.0 1415.5 L1926.7 1416.8 L1929.4 1418.2 L1932.1 1419.5 L1934.7 1420.8 L1937.4 1422.1 L1940.1 1423.4 L1942.8 1424.7 L1945.6 1426.0 L1948.3 1427.2 L1951.0 1428.5 L1953.7 1429.7 L1956.4 1431.0 L1959.2 1432.2 L1961.9 1433.4 L1964.6 1434.6 L1967.4 1435.8 L1970.1 1437.0 L1972.9 1438.1 L1975.6 1439.3 L1978.4 1440.4 L1981.2 1441.5 L1983.9 1442.6 L1986.7 1443.7 L1989.5 1444.8 L1992.3 1445.8 L1995.1 1446.9 L1997.9 1447.9 L2000.7 1448.9 L2003.5 1449.9 L2006.3 1450.9 L2009.2 1451.8 L2012.0 1452.8 L2014.8 1453.7 L2017.7 1454.6 L2020.5 1455.5 L2023.4 1456.4 L2026.3 1457.2 L2029.1 1458.1 L2032.0 1458.9 L2034.9 1459.7 L2037.8 1460.5 L2040.7 1461.3 L2043.6 1462.0 L2046.5 1462.8 L2049.4 1463.5 L2052.3 1464.2 L2055.2 1465.0 L2058.1 1465.6 L2061.1 1466.3 L2064.0 1467.0 L2066.9 1467.6 L2069.8 1468.3 L2072.8 1468.9 L2075.7 1469.5 L2078.7 1470.1 L2081.6 1470.7 L2084.6 1471.3 L2087.5 1471.9 L2090.5 1472.4 L2093.4 1473.0 L2096.4 1473.5 L2099.3 1474.0 L2102.3 1474.5 L2105.3 1475.0 L2108.2 1475.5 L2111.2 1476.0 L2114.2 1476.5 L2117.1 1476.9 L2120.1 1477.4 L2123.1 1477.8 L2126.1 1478.3 L2129.0 1478.7 L2132.0 1479.1 L2135.0 1479.5 L2138.0 1479.9 L2140.9 1480.3 L2143.9 1480.7 L2146.9 1481.1 L2149.9 1481.5 L2152.8 1481.9 L2155.8 1482.3 L2158.8 1482.6 L2161.8 1483.0 L2164.8 1483.3 L2167.8 1483.7 L2170.7 1484.0 L2173.7 1484.4 L2176.7 1484.7 L2179.7 1485.0 L2182.7 1485.4 L2185.7 1485.7 L2188.7 1486.0 L2191.7 1486.3 L2194.6 1486.7 L2197.6 1487.0 L2200.6 1487.3 L2203.6 1487.6 L2206.6 1487.9 L2209.6 1488.3 L2212.6 1488.6 L2215.6 1488.9 L2218.5 1489.2 L2221.5 1489.5 L2224.5 1489.8 L2227.5 1490.2 L2230.5 1490.5 L2233.5 1490.8 L2236.5 1491.1 L2239.4 1491.4 L2242.4 1491.8 L2245.4 1492.1 L2248.4 1492.4 L2251.4 1492.8 L2254.4 1493.1 L2257.3 1493.4 L2260.3 1493.8 L2263.3 1494.1 L2266.3 1494.5 L2269.3 1494.8 L2272.2 1495.2 L2275.2 1495.6 L2278.2 1496.0 L2281.2 1496.3 L2284.1 1496.7 L2287.1 1497.1 L2290.1 1497.5 L2293.0 1497.9 L2296.0 1498.3 L2299.0 1498.8 L2301.9 1499.2 L2304.9 1499.6 L2307.9 1500.1 L2310.8 1500.5 L2313.8 1501.0 L2316.7 1501.4 L2319.7 1501.9" stroke="#ff0000" stroke-dasharray="27.5 31.5"/>
<path d="M322.8 183.8 L325.7 184.5 L328.7 185.1 L331.6 185.8 L334.5 186.3 L337.5 186.9 L340.4 187.5 L343.4 188.0 L346.3 188.5 L349.3 188.9 L352.2 189.3 L355.2 189.8 L358.2 190.1 L361.1 190.5 L364.1 190.8 L367.1 191.2 L370.1 191.5 L373.0 191.7 L376.0 192.0 L379.0 192.2 L382.0 192.5 L385.0 192.7 L388.0 192.9 L390.9 193.0 L393.9 193.2 L396.9 193.3 L399.9 193.5 L402.9 193.6 L405.9 193.7 L408.9 193.8 L411.9 193.9 L414.9 194.0 L417.9 194.0 L420.9 194.1 L423.9 194.1 L426.9 194.2 L429.9 194.2 L432.9 194.2 L435.9 194.3 L438.9 194.3 L442.0 194.3 L445.0 194.3 L448.0 194.3 L451.0 194.4 L454.0 194.4 L457.0 194.4 L460.0 194.4 L463.0 194.4 L466.0 194.4 L469.0 194.5 L472.0 194.5 L475.0 194.5 L478.1 194.5 L481.1 194.6 L484.1 194.6 L487.1 194.6 L490.1 194.7 L493.1 194.7 L496.1 194.7 L499.1 194.8 L502.1 194.8 L505.1 194.9 L508.1 194.9 L511.1 195.0 L514.1 195.0 L517.1 195.1 L520.1 195.1 L523.1 195.2 L526.2 195.3 L529.2 195.3 L532.2 195.4 L535.2 195.5 L538.2 195.5 L541.2 195.6 L544.2 195.7 L547.2 195.7 L550.2 195.8 L553.2 195.9 L556.2 195.9 L559.2 196.0 L562.2 196.1 L565.2 196.2 L568.2 196.3 L571.2 196.3 L574.2 196.4 L577.2 196.5 L580.2 196.6 L583.2 196.7 L586.2 196.8 L589.2 196.8 L592.2 196.9 L595.2 197.0 L598.2 197.1 L601.2 197.2 L604.2 197.3 L607.2 197.4 L610.3 197.5 L613.3 197.6 L616.3 197.6 L619.3 197.7 L622.3 197.8 L625.3 197.9 L628.3 198.0 L631.3 198.1 L634.3 198.2 L637.3 198.3 L640.3 198.4 L643.3 198.5 L646.3 198.6 L649.3 198.7 L652.3 198.8 L655.3 198.9 L658.3 199.0 L661.3 199.1 L664.3 199.2 L667.3 199.2 L670.3 199.3 L673.3 199.4 L676.3 199.5 L679.3 199.6 L682.3 199.7 L685.3 199.8 L688.3 199.9 L691.3 200.0 L694.3 200.1 L697.3 200.2 L700.3 200.3 L703.3 200.4 L706.3 200.4 L709.3 200.5 L712.3 200.6 L715.3 200.7 L718.3 200.8 L721.3 200.9 L724.3 201.0 L727.3 201.0 L730.3 201.1 L733.3 201.2 L736.3 201.3 L739.3 201.4 L742.3 201.4 L745.3 201.5 L748.3 201.6 L751.3 201.7 L754.3 201.7 L757.3 201.8 L760.3 201.9 L763.3 201.9 L766.3 202.0 L769.3 202.1 L772.3 202.1 L775.3 202.2 L778.3 202.3 L781.3 202.3 L784.3 202.4 L787.3 202.4 L790.3 202.5 L793.3 202.5 L796.3 202.6 L799.3 202.6 L802.3 202.7 L805.3 202.7 L808.3 202.8 L811.3 202.8 L814.4 202.9 L817.4 202.9 L820.4 202.9 L823.4 203.0 L826.4 203.0 L829.4 203.1 L832.4 203.1 L835.4 203.1 L838.4 203.2 L841.4 203.2 L844.4 203.2 L847.4 203.3 L850.4 203.3 L853.4 203.3 L856.4 203.4 L859.4 203.4 L862.4 203.4 L865.4 203.5 L868.4 203.5 L871.4 203.5 L874.4 203.6 L877.4 203.6 L880.4 203.6 L883.4 203.6 L886.4 203.7 L889.4 203.7 L892.4 203.8 L895.4 203.8 L898.4 203.8 L901.4 203.9 L904.4 203.9 L907.4 203.9 L910.4 204.0 L913.4 204.0 L916.4 204.1 L919.4 204.1 L922.4 204.2 L925.4 204.2 L928.4 204.3 L931.4 204.3 L934.4 204.4 L937.4 204.4 L940.4 204.5 L943.4 204.5 L946.4 204.6 L949.4 204.7 L952.4 204.7 L955.4 204.8 L958.4 204.9 L961.4 204.9 L964.4 205.0 L967.4 205.1 L970.4 205.2 L973.4 205.2 L976.4 205.3 L979.4 205.4 L982.4 205.5 L985.4 205.6 L988.4 205.7 L991.4 205.8 L994.4 205.9 L997.4 206.0 L1000.4 206.1 L1003.4 206.2 L1006.4 206.4 L1009.4 206.5 L1012.4 206.6 L1015.4 206.7 L1018.4 206.9 L1021.4 207.0 L1024.4 207.1 L1027.4 207.3 L1030.4 207.4 L1033.4 207.6 L1036.4 207.8 L1039.4 207.9 L1042.4 208.1 L1045.4 208.3 L1048.3 208.4 L1051.3 208.6 L1054.3 208.8 L1057.3 209.0 L1060.3 209.2 L1063.3 209.4 L1066.3 209.6 L1069.3 209.8 L1072.3 210.0 L1075.3 210.2 L1078.3 210.5 L1081.3 210.7 L1084.3 210.9 L1087.3 211.2 L1090.3 211.4 L1093.2 211.7 L1096.2 211.9 L1099.2 212.2 L1102.2 212.5 L1105.2 212.8 L1108.2 213.0 L1111.2 213.3 L1114.2 213.6 L1117.2 213.9 L1120.2 214.2 L1123.1 214.6 L1126.1 214.9 L1129.1 215.2 L1132.1 215.5 L1135.1 215.9 L1138.1 216.2 L1141.1 216.6 L1144.1 217.0 L1147.1 217.3 L1150.0 217.7 L1153.0 218.1 L1156.0 218.5 L1159.0 218.9 L1162.0 219.3 L1165.0 219.7 L1167.9 220.1 L1170.9 220.6 L1173.9 221.0 L1176.9 221.5 L1179.9 221.9 L1182.9 222.4 L1185.8 222.8 L1188.8 223.3 L1191.8 223.8 L1194.8 224.3 L1197.8 224.8 L1200.8 225.3 L1203.7 225.8 L1206.7 226.4 L1209.7 226.9 L1212.7 227.5 L1215.6 228.0 L1218.6 228.6 L1221.6 229.2 L1224.5 229.9 L1227.4 230.5 L1230.4 231.2 L1233.3 231.9 L1236.2 232.6 L1239.1 233.4 L1242.0 234.1 L1244.9 235.0 L1247.8 235.8 L1250.6 236.7 L1253.4 237.6 L1256.2 238.5 L1259.0 239.5 L1261.8 240.5 L1264.6 241.6 L1267.3 242.7 L1270.0 243.9 L1272.7 245.1 L1275.4 246.3 L1278.1 247.6 L1280.7 249.0 L1283.3 250.4 L1285.9 251.8 L1288.4 253.3 L1290.9 254.9 L1293.4 256.5 L1295.9 258.1 L1298.3 259.8 L1300.7 261.6 L1303.1 263.4 L1305.5 265.2 L1307.8 267.1 L1310.1 269.0 L1312.4 270.9 L1314.7 272.9 L1316.9 275.0 L1319.1 277.0 L1321.2 279.2 L1323.4 281.3 L1325.5 283.5 L1327.6 285.7 L1329.6 287.9 L1331.7 290.2 L1333.7 292.5 L1335.6 294.9 L1337.6 297.2 L1339.5 299.6 L1341.4 302.0 L1343.2 304.5 L1345.0 306.9 L1346.8 309.4 L1348.6 311.9 L1350.4 314.4 L1352.1 317.0 L1353.7 319.5 L1355.4 322.1 L1357.0 324.7 L1358.6 327.3 L1360.2 329.9 L1361.7 332.5 L1363.2 335.2 L1364.7 337.8 L1366.1 340.5 L1367.5 343.2 L1368.9 345.8 L1370.3 348.5 L1371.6 351.2 L1372.9 353.9 L1374.2 356.6 L1375.4 359.3 L1376.6 362.0 L1377.8 364.7 L1379.0 367.4 L1380.2 370.1 L1381.4 372.9 L1382.5 375.6 L1383.7 378.3 L1384.8 381.0 L1386.0 383.8 L1387.1 386.5 L1388.3 389.2 L1389.4 392.0 L1390.6 394.7 L1391.7 397.4 L1392.9 400.2 L1394.1 402.9 L1395.2 405.7 L1396.4 408.4 L1397.6 411.1 L1398.7 413.9 L1399.9 416.7 L1401.0 419.4 L1402.2 422.2 L1403.4 424.9 L1404.5 427.7 L1405.7 430.5 L1406.8 433.3 L1407.9 436.0 L1409.0 438.8 L1410.1 441.6 L1411.2 444.4 L1412.3 447.2 L1413.4 450.0 L1414.5 452.8 L1415.5 455.6 L1416.5 458.4 L1417.6 461.3 L1418.6 464.1 L1419.6 466.9 L1420.5 469.8 L1421.5 472.6 L1422.5 475.5 L1423.4 478.3 L1424.3 481.2 L1425.2 484.0 L1426.1 486.9 L1427.0 489.8 L1427.9 492.7 L1428.8 495.5 L1429.6 498.4 L1430.5 501.3 L1431.3 504.2 L1432.2 507.1 L1433.0 510.0 L1433.8 512.9 L1434.6 515.8 L1435.4 518.7 L1436.2 521.6 L1437.0 524.5 L1437.8 527.4 L1438.6 530.3 L1439.4 533.2 L1440.2 536.1 L1441.0 539.0 L1441.7 541.9 L1442.5 544.8 L1443.3 547.7 L1444.0 550.6 L1444.8 553.5 L1445.6 556.5 L1446.3 559.4 L1447.1 562.3 L1447.9 565.2 L1448.6 568.1 L1449.4 571.0 L1450.2 573.9 L1450.9 576.8 L1451.7 579.7 L1452.4 582.6 L1453.2 585.5 L1454.0 588.4 L1454.7 591.3 L1455.5 594.2 L1456.2 597.1 L1457.0 600.1 L1457.7 603.0 L1458.5 605.9 L1459.3 608.8 L1460.0 611.7 L1460.8 614.6 L1461.5 617.5 L1462.3 620.4 L1463.0 623.3 L1463.8 626.2 L1464.5 629.1 L1465.3 632.0 L1466.1 634.9 L1466.8 637.8 L1467.6 640.7 L1468.3 643.6 L1469.1 646.5 L1469.8 649.4 L1470.6 652.3 L1471.4 655.2 L1472.1 658.1 L1472.9 661.0 L1473.6 663.9 L1474.4 666.8 L1475.2 669.7 L1475.9 672.6 L1476.7 675.5 L1477.5 678.4 L1478.2 681.3 L1479.0 684.2 L1479.8 687.1 L1480.5 690.0 L1481.3 692.9 L1482.1 695.8 L1482.8 698.7 L1483.6 701.6 L1484.4 704.5 L1485.2 707.4 L1485.9 710.3 L1486.7 713.2 L1487.5 716.1 L1488.3 719.0 L1489.0 721.9 L1489.8 724.8 L1490.6 727.7 L1491.4 730.6 L1492.2 733.5 L1493.0 736.4 L1493.8 739.3 L1494.6 742.1 L1495.4 745.0 L1496.1 747.9 L1496.9 750.8 L1497.7 753.7 L1498.5 756.6 L1499.4 759.5 L1500.2 762.4 L1501.0 765.3 L1501.8 768.2 L1502.6 771.1 L1503.4 774.0 L1504.2 776.9 L1505.0 779.8 L1505.9 782.6 L1506.7 785.5 L1507.5 788.4 L1508.3 791.3 L1509.1 794.2 L1510.0 797.1 L1510.8 800.0 L1511.6 802.9 L1512.5 805.8 L1513.3 808.7 L1514.1 811.6 L1514.9 814.4 L1515.8 817.3 L1516.6 820.2 L1517.4 823.1 L1518.3 826.0 L1519.1 828.9 L1519.9 831.8 L1520.8 834.7 L1521.6 837.6 L1522.5 840.4 L1523.3 843.3 L1524.1 846.2 L1525.0 849.1 L1525.8 852.0 L1526.6 854.9 L1527.5 857.8 L1528.3 860.7 L1529.1 863.5 L1530.0 866.4 L1530.8 869.3 L1531.6 872.2 L1532.4 875.1 L1533.3 878.0 L1534.1 880.9 L1534.9 883.8 L1535.7 886.7 L1536.6 889.5 L1537.4 892.4 L1538.2 895.3 L1539.0 898.2 L1539.8 901.1 L1540.6 904.0 L1541.5 906.9 L1542.3 909.8 L1543.1 912.6 L1543.9 915.5 L1544.7 918.4 L1545.5 921.3 L1546.3 924.2 L1547.1 927.1 L1547.9 930.0 L1548.7 932.9 L1549.5 935.8 L1550.3 938.6 L1551.1 941.5 L1551.9 944.4 L1552.7 947.3 L1553.4 950.2 L1554.2 953.1 L1555.0 956.0 L1555.8 958.9 L1556.6 961.7 L1557.4 964.6 L1558.2 967.5 L1559.0 970.4 L1559.8 973.3 L1560.6 976.2 L1561.4 979.1 L1562.1 982.0 L1562.9 984.9 L1563.7 987.7 L1564.5 990.6 L1565.3 993.5 L1566.1 996.4 L1566.9 999.3 L1567.7 1002.2 L1568.5 1005.1 L1569.3 1008.0 L1570.1 1010.8 L1570.9 1013.7 L1571.7 1016.6 L1572.5 1019.5 L1573.3 1022.4 L1574.1 1025.3 L1574.9 1028.2 L1575.7 1031.1 L1576.5 1034.0 L1577.4 1036.8 L1578.2 1039.7 L1579.0 1042.6 L1579.8 1045.5 L1580.6 1048.4 L1581.5 1051.3 L1582.3 1054.2 L1583.1 1057.1 L1584.0 1059.9 L1584.8 1062.8 L1585.6 1065.7 L1586.5 1068.6 L1587.3 1071.5 L1588.2 1074.4 L1589.0 1077.3 L1589.9 1080.1 L1590.8 1083.0 L1591.6 1085.9 L1592.5 1088.8 L1593.4 1091.7 L1594.3 1094.6 L1595.1 1097.5 L1596.0 1100.3 L1596.9 1103.2 L1597.8 1106.1 L1598.7 1109.0 L1599.6 1111.8 L1600.6 1114.7 L1601.5 1117.6 L1602.4 1120.5 L1603.4 1123.3 L1604.3 1126.2 L1605.3 1129.0 L1606.2 1131.9 L1607.2 1134.7 L1608.2 1137.6 L1609.2 1140.4 L1610.2 1143.3 L1611.2 1146.1 L1612.3 1148.9 L1613.3 1151.8 L1614.3 1154.6 L1615.4 1157.4 L1616.5 1160.2 L1617.6 1163.0 L1618.6 1165.8 L1619.8 1168.6 L1620.9 1171.4 L1622.0 1174.2 L1623.2 1177.0 L1624.3 1179.7 L1625.5 1182.5 L1626.7 1185.2 L1627.9 1188.0 L1629.1 1190.7 L1630.3 1193.5 L1631.6 1196.2 L1632.8 1198.9 L1634.1 1201.6 L1635.4 1204.3 L1636.7 1207.0 L1638.1 1209.7 L1639.4 1212.4 L1640.8 1215.0 L1642.2 1217.7 L1643.6 1220.3 L1645.0 1223.0 L1646.4 1225.6 L1647.9 1228.2 L1649.3 1230.8 L1650.8 1233.4 L1652.4 1236.0 L1653.9 1238.6 L1655.5 1241.1 L1657.0 1243.7 L1658.6 1246.2 L1660.2 1248.8 L1661.9 1251.3 L1663.5 1253.8 L1665.2 1256.3 L1666.9 1258.8 L1668.6 1261.2 L1670.3 1263.7 L1672.1 1266.1 L1673.8 1268.5 L1675.6 1271.0 L1677.4 1273.4 L1679.3 1275.8 L1681.1 1278.1 L1682.9 1280.5 L1684.8 1282.9 L1686.7 1285.2 L1688.6 1287.5 L1690.6 1289.8 L1692.5 1292.1 L1694.5 1294.4 L1696.4 1296.6 L1698.4 1298.9 L1700.5 1301.1 L1702.5 1303.3 L1704.5 1305.5 L1706.6 1307.7 L1708.7 1309.9 L1710.8 1312.0 L1712.9 1314.2 L1715.0 1316.3 L1717.2 1318.4 L1719.3 1320.5 L1721.5 1322.6 L1723.7 1324.6 L1725.9 1326.6 L1728.1 1328.7 L1730.3 1330.7 L1732.6 1332.6 L1734.9 1334.6 L1737.1 1336.5 L1739.4 1338.5 L1741.7 1340.4 L1744.1 1342.3 L1746.4 1344.1 L1748.8 1346.0 L1751.1 1347.8 L1753.5 1349.6 L1755.9 1351.4 L1758.3 1353.2 L1760.7 1354.9 L1763.2 1356.7 L1765.6 1358.4 L1768.1 1360.1 L1770.5 1361.8 L1773.0 1363.4 L1775.5 1365.1 L1778.0 1366.7 L1780.5 1368.3 L1783.1 1369.9 L1785.6 1371.5 L1788.1 1373.1 L1790.7 1374.7 L1793.2 1376.3 L1795.8 1377.8 L1798.4 1379.3 L1800.9 1380.9 L1803.5 1382.4 L1806.1 1383.9 L1808.7 1385.4 L1811.3 1386.9 L1813.9 1388.4 L1816.5 1389.9 L1819.1 1391.4 L1821.7 1392.9 L1824.3 1394.4 L1827.0 1395.9 L1829.6 1397.4 L1832.2 1398.9 L1834.8 1400.4 L1837.4 1401.8 L1840.1 1403.3 L1842.7 1404.8 L1845.3 1406.3 L1847.9 1407.8 L1850.6 1409.3 L1853.2 1410.7 L1855.8 1412.2 L1858.5 1413.7 L1861.1 1415.2 L1863.7 1416.6 L1866.4 1418.1 L1869.0 1419.6 L1871.6 1421.1 L1874.3 1422.5 L1876.9 1424.0 L1879.6 1425.4 L1882.2 1426.9 L1884.9 1428.3 L1887.5 1429.8 L1890.2 1431.2 L1892.8 1432.7 L1895.5 1434.1 L1898.1 1435.5 L1900.8 1436.9 L1903.4 1438.3 L1906.1 1439.8 L1908.8 1441.2 L1911.4 1442.6 L1914.1 1443.9 L1916.8 1445.3 L1919.5 1446.7 L1922.2 1448.1 L1924.8 1449.4 L1927.5 1450.8 L1930.2 1452.1 L1932.9 1453.5 L1935.6 1454.8 L1938.3 1456.1 L1941.0 1457.5 L1943.7 1458.8 L1946.4 1460.1 L1949.1 1461.4 L1951.8 1462.6 L1954.6 1463.9 L1957.3 1465.2 L1960.0 1466.4 L1962.7 1467.7 L1965.5 1468.9 L1968.2 1470.1 L1970.9 1471.3 L1973.7 1472.5 L1976.4 1473.7 L1979.2 1474.9 L1981.9 1476.1 L1984.7 1477.2 L1987.5 1478.4 L1990.2 1479.5 L1993.0 1480.6 L1995.8 1481.7 L1998.6 1482.8 L2001.3 1483.9 L2004.1 1484.9 L2006.9 1486.0 L2009.7 1487.0 L2012.5 1488.0 L2015.3 1489.0 L2018.1 1490.0 L2020.9 1491.0 L2023.8 1492.0 L2026.6 1492.9 L2029.4 1493.9 L2032.3 1494.8 L2035.1 1495.7 L2037.9 1496.6 L2040.8 1497.4 L2043.7 1498.3 L2046.5 1499.1 L2049.4 1500.0 L2052.3 1500.8 L2055.1 1501.5 L2058.0 1502.3 L2060.9 1503.1 L2063.8 1503.8 L2066.7 1504.5 L2069.6 1505.2 L2072.5 1505.9 L2075.4 1506.6 L2078.3 1507.2 L2081.3 1507.8 L2084.2 1508.5 L2087.1 1509.1 L2090.1 1509.7 L2093.0 1510.2 L2096.0 1510.8 L2098.9 1511.3 L2101.9 1511.9 L2104.8 1512.4 L2107.8 1512.9 L2110.7 1513.4 L2113.7 1513.9 L2116.7 1514.4 L2119.7 1514.8 L2122.6 1515.3 L2125.6 1515.7 L2128.6 1516.2 L2131.6 1516.6 L2134.6 1517.0 L2137.6 1517.4 L2140.6 1517.8 L2143.5 1518.2 L2146.5 1518.6 L2149.5 1519.0 L2152.5 1519.3 L2155.5 1519.7 L2158.5 1520.0 L2161.6 1520.4 L2164.6 1520.7 L2167.6 1521.1 L2170.6 1521.4 L2173.6 1521.7 L2176.6 1522.1 L2179.6 1522.4 L2182.6 1522.7 L2185.6 1523.0 L2188.6 1523.3 L2191.6 1523.6 L2194.7 1523.9 L2197.7 1524.2 L2200.7 1524.5 L2203.7 1524.8 L2206.7 1525.1 L2209.7 1525.5 L2212.7 1525.8 L2215.7 1526.1 L2218.7 1526.4 L2221.7 1526.7 L2224.8 1527.0 L2227.8 1527.3 L2230.8 1527.6 L2233.8 1527.9 L2236.8 1528.2 L2239.8 1528.5 L2242.7 1528.8 L2245.7 1529.2 L2248.7 1529.5 L2251.7 1529.8 L2254.7 1530.2 L2257.7 1530.5 L2260.7 1530.9 L2263.6 1531.2 L2266.6 1531.6 L2269.6 1531.9 L2272.6 1532.3 L2275.5 1532.7 L2278.5 1533.1 L2281.4 1533.5 L2284.4 1533.9 L2287.3 1534.3 L2290.3 1534.8 L2293.2 1535.2 L2296.2 1535.6 L2299.1 1536.1 L2302.0 1536.6 L2304.9 1537.0 L2307.9 1537.5 L2310.8 1538.0 L2313.7 1538.5 L2316.6 1539.1 L2319.5 1539.6" stroke="#0000ff" stroke-dasharray="3.5 32.5"/>
<path d="M322.8 183.8 L325.7 184.5 L328.6 185.2 L331.6 185.8 L334.5 186.4 L337.5 186.9 L340.4 187.5 L343.4 188.0 L346.3 188.4 L349.3 188.9 L352.3 189.3 L355.2 189.7 L358.2 190.1 L361.2 190.5 L364.1 190.8 L367.1 191.1 L370.1 191.4 L373.1 191.7 L376.0 191.9 L379.0 192.2 L382.0 192.4 L385.0 192.6 L388.0 192.8 L391.0 193.0 L394.0 193.1 L396.9 193.3 L399.9 193.4 L402.9 193.5 L405.9 193.6 L408.9 193.7 L411.9 193.8 L414.9 193.9 L417.9 193.9 L420.9 194.0 L423.9 194.0 L426.9 194.1 L429.9 194.1 L432.9 194.2 L435.9 194.2 L438.9 194.2 L441.9 194.2 L444.9 194.3 L448.0 194.3 L451.0 194.3 L454.0 194.3 L457.0 194.3 L460.0 194.3 L463.0 194.4 L466.0 194.4 L469.0 194.4 L472.0 194.4 L475.0 194.5 L478.0 194.5 L481.0 194.5 L484.0 194.6 L487.0 194.6 L490.0 194.6 L493.0 194.7 L496.1 194.7 L499.1 194.8 L502.1 194.8 L505.1 194.9 L508.1 194.9 L511.1 195.0 L514.1 195.0 L517.1 195.1 L520.1 195.1 L523.1 195.2 L526.1 195.3 L529.1 195.3 L532.1 195.4 L535.1 195.5 L538.1 195.5 L541.1 195.6 L544.1 195.7 L547.1 195.8 L550.2 195.8 L553.2 195.9 L556.2 196.0 L559.2 196.1 L562.2 196.1 L565.2 196.2 L568.2 196.3 L571.2 196.4 L574.2 196.5 L577.2 196.6 L580.2 196.6 L583.2 196.7 L586.2 196.8 L589.2 196.9 L592.2 197.0 L595.2 197.1 L598.2 197.2 L601.2 197.3 L604.2 197.4 L607.2 197.5 L610.2 197.6 L613.2 197.6 L616.2 197.7 L619.3 197.8 L622.3 197.9 L625.3 198.0 L628.3 198.1 L631.3 198.2 L634.3 198.3 L637.3 198.4 L640.3 198.5 L643.3 198.6 L646.3 198.7 L649.3 198.8 L652.3 198.9 L655.3 199.0 L658.3 199.1 L661.3 199.2 L664.3 199.3 L667.3 199.4 L670.3 199.5 L673.3 199.6 L676.3 199.7 L679.3 199.7 L682.3 199.8 L685.3 199.9 L688.3 200.0 L691.3 200.1 L694.3 200.2 L697.3 200.3 L700.3 200.4 L703.3 200.5 L706.3 200.6 L709.3 200.6 L712.3 200.7 L715.3 200.8 L718.3 200.9 L721.3 201.0 L724.3 201.1 L727.4 201.1 L730.4 201.2 L733.4 201.3 L736.4 201.4 L739.4 201.5 L742.4 201.5 L745.4 201.6 L748.4 201.7 L751.4 201.7 L754.4 201.8 L757.4 201.9 L760.4 201.9 L763.4 202.0 L766.4 202.1 L769.4 202.1 L772.4 202.2 L775.4 202.2 L778.4 202.3 L781.4 202.3 L784.4 202.4 L787.4 202.4 L790.4 202.5 L793.4 202.5 L796.4 202.6 L799.4 202.6 L802.4 202.7 L805.4 202.7 L808.4 202.7 L811.4 202.8 L814.4 202.8 L817.4 202.8 L820.4 202.9 L823.4 202.9 L826.4 202.9 L829.4 202.9 L832.4 203.0 L835.4 203.0 L838.4 203.0 L841.4 203.0 L844.4 203.1 L847.4 203.1 L850.4 203.1 L853.4 203.1 L856.4 203.2 L859.4 203.2 L862.4 203.2 L865.4 203.2 L868.4 203.2 L871.4 203.3 L874.4 203.3 L877.4 203.3 L880.4 203.3 L883.4 203.4 L886.4 203.4 L889.4 203.4 L892.4 203.5 L895.3 203.5 L898.3 203.5 L901.3 203.6 L904.3 203.6 L907.3 203.6 L910.3 203.7 L913.3 203.7 L916.3 203.8 L919.3 203.8 L922.3 203.8 L925.3 203.9 L928.3 203.9 L931.3 204.0 L934.3 204.0 L937.3 204.1 L940.3 204.2 L943.3 204.2 L946.3 204.3 L949.3 204.4 L952.3 204.4 L955.3 204.5 L958.3 204.6 L961.3 204.7 L964.3 204.8 L967.3 204.8 L970.3 204.9 L973.3 205.0 L976.3 205.1 L979.3 205.2 L982.3 205.3 L985.3 205.5 L988.3 205.6 L991.3 205.7 L994.3 205.8 L997.3 205.9 L1000.3 206.1 L1003.3 206.2 L1006.2 206.4 L1009.2 206.5 L1012.2 206.7 L1015.2 206.8 L1018.2 207.0 L1021.2 207.2 L1024.2 207.3 L1027.2 207.5 L1030.2 207.7 L1033.2 207.9 L1036.2 208.1 L1039.2 208.3 L1042.2 208.5 L1045.2 208.7 L1048.2 208.9 L1051.2 209.1 L1054.2 209.4 L1057.2 209.6 L1060.2 209.9 L1063.2 210.1 L1066.2 210.4 L1069.2 210.6 L1072.2 210.9 L1075.1 211.2 L1078.1 211.5 L1081.1 211.8 L1084.1 212.1 L1087.1 212.4 L1090.1 212.7 L1093.1 213.0 L1096.1 213.3 L1099.1 213.7 L1102.1 214.0 L1105.1 214.4 L1108.1 214.7 L1111.1 215.1 L1114.1 215.5 L1117.1 215.9 L1120.1 216.3 L1123.1 216.7 L1126.1 217.1 L1129.1 217.5 L1132.0 217.9 L1135.0 218.4 L1138.0 218.8 L1141.0 219.3 L1144.0 219.7 L1147.0 220.2 L1150.0 220.7 L1153.0 221.2 L1156.0 221.7 L1159.0 222.2 L1162.0 222.7 L1165.0 223.3 L1168.0 223.8 L1170.9 224.4 L1173.9 224.9 L1176.9 225.5 L1179.9 226.1 L1182.8 226.8 L1185.8 227.4 L1188.8 228.0 L1191.7 228.7 L1194.7 229.4 L1197.6 230.1 L1200.5 230.8 L1203.4 231.6 L1206.4 232.3 L1209.3 233.1 L1212.2 233.9 L1215.0 234.7 L1217.9 235.6 L1220.8 236.4 L1223.6 237.3 L1226.5 238.2 L1229.3 239.2 L1232.1 240.1 L1234.9 241.1 L1237.7 242.1 L1240.5 243.2 L1243.3 244.2 L1246.0 245.3 L1248.7 246.4 L1251.5 247.6 L1254.2 248.8 L1256.8 250.0 L1259.5 251.2 L1262.2 252.5 L1264.8 253.8 L1267.4 255.1 L1270.0 256.5 L1272.6 257.9 L1275.1 259.3 L1277.7 260.8 L1280.2 262.3 L1282.7 263.8 L1285.1 265.4 L1287.6 267.0 L1290.0 268.6 L1292.4 270.3 L1294.8 272.0 L1297.1 273.8 L1299.5 275.6 L1301.8 277.4 L1304.0 279.3 L1306.3 281.2 L1308.5 283.2 L1310.7 285.2 L1312.9 287.2 L1315.0 289.3 L1317.2 291.4 L1319.3 293.6 L1321.3 295.8 L1323.4 298.0 L1325.4 300.3 L1327.4 302.6 L1329.3 304.9 L1331.3 307.3 L1333.2 309.6 L1335.1 312.1 L1336.9 314.5 L1338.7 317.0 L1340.6 319.4 L1342.3 321.9 L1344.1 324.5 L1345.8 327.0 L1347.5 329.6 L1349.2 332.2 L1350.9 334.7 L1352.5 337.4 L1354.1 340.0 L1355.7 342.6 L1357.3 345.2 L1358.8 347.9 L1360.4 350.6 L1361.9 353.2 L1363.3 355.9 L1364.8 358.6 L1366.2 361.2 L1367.6 363.9 L1369.0 366.6 L1370.4 369.3 L1371.7 372.1 L1373.0 374.8 L1374.3 377.5 L1375.6 380.2 L1376.9 383.0 L1378.2 385.7 L1379.4 388.5 L1380.6 391.2 L1381.8 394.0 L1383.0 396.7 L1384.1 399.5 L1385.3 402.3 L1386.4 405.0 L1387.5 407.8 L1388.6 410.6 L1389.7 413.4 L1390.8 416.2 L1391.8 419.0 L1392.9 421.8 L1393.9 424.6 L1394.9 427.4 L1395.9 430.2 L1396.9 433.1 L1397.9 435.9 L1398.9 438.7 L1399.8 441.5 L1400.8 444.4 L1401.7 447.2 L1402.6 450.0 L1403.6 452.9 L1404.5 455.7 L1405.4 458.6 L1406.3 461.4 L1407.1 464.3 L1408.0 467.1 L1408.9 470.0 L1409.8 472.8 L1410.6 475.7 L1411.5 478.5 L1412.4 481.4 L1413.2 484.3 L1414.1 487.1 L1414.9 490.0 L1415.7 492.9 L1416.6 495.7 L1417.4 498.6 L1418.2 501.5 L1419.1 504.3 L1419.9 507.2 L1420.7 510.1 L1421.6 513.0 L1422.4 515.8 L1423.3 518.7 L1424.1 521.6 L1424.9 524.5 L1425.8 527.3 L1426.6 530.2 L1427.5 533.1 L1428.3 536.0 L1429.2 538.8 L1430.0 541.7 L1430.9 544.6 L1431.8 547.5 L1432.7 550.3 L1433.5 553.2 L1434.4 556.1 L1435.3 558.9 L1436.2 561.8 L1437.1 564.7 L1438.0 567.6 L1438.9 570.4 L1439.7 573.3 L1440.6 576.2 L1441.5 579.0 L1442.4 581.9 L1443.3 584.8 L1444.2 587.7 L1445.1 590.5 L1446.0 593.4 L1446.9 596.3 L1447.8 599.1 L1448.7 602.0 L1449.6 604.9 L1450.5 607.8 L1451.4 610.6 L1452.3 613.5 L1453.2 616.4 L1454.1 619.2 L1455.0 622.1 L1455.9 625.0 L1456.7 627.9 L1457.6 630.7 L1458.5 633.6 L1459.4 636.5 L1460.2 639.4 L1461.1 642.2 L1462.0 645.1 L1462.8 648.0 L1463.7 650.9 L1464.5 653.7 L1465.4 656.6 L1466.2 659.5 L1467.0 662.4 L1467.9 665.3 L1468.7 668.1 L1469.5 671.0 L1470.3 673.9 L1471.1 676.8 L1471.9 679.7 L1472.7 682.6 L1473.5 685.5 L1474.3 688.4 L1475.1 691.3 L1475.9 694.1 L1476.6 697.0 L1477.4 699.9 L1478.2 702.8 L1478.9 705.7 L1479.7 708.6 L1480.4 711.5 L1481.2 714.4 L1481.9 717.3 L1482.7 720.2 L1483.4 723.1 L1484.2 726.0 L1484.9 728.9 L1485.7 731.8 L1486.5 734.7 L1487.2 737.6 L1488.0 740.5 L1488.8 743.4 L1489.6 746.3 L1490.3 749.2 L1491.1 752.1 L1491.9 755.0 L1492.7 757.8 L1493.5 760.7 L1494.3 763.6 L1495.2 766.5 L1496.0 769.4 L1496.8 772.3 L1497.6 775.1 L1498.5 778.0 L1499.3 780.9 L1500.1 783.8 L1501.0 786.7 L1501.8 789.5 L1502.7 792.4 L1503.5 795.3 L1504.4 798.2 L1505.2 801.0 L1506.1 803.9 L1506.9 806.8 L1507.8 809.7 L1508.6 812.5 L1509.5 815.4 L1510.3 818.3 L1511.2 821.2 L1512.0 824.0 L1512.9 826.9 L1513.8 829.8 L1514.6 832.7 L1515.5 835.5 L1516.3 838.4 L1517.2 841.3 L1518.0 844.2 L1518.9 847.1 L1519.7 849.9 L1520.6 852.8 L1521.4 855.7 L1522.3 858.6 L1523.1 861.5 L1523.9 864.4 L1524.8 867.3 L1525.6 870.1 L1526.4 873.0 L1527.3 875.9 L1528.1 878.8 L1528.9 881.7 L1529.7 884.6 L1530.6 887.5 L1531.4 890.4 L1532.2 893.3 L1533.0 896.2 L1533.8 899.1 L1534.6 902.0 L1535.5 904.9 L1536.3 907.8 L1537.1 910.7 L1537.9 913.6 L1538.7 916.5 L1539.5 919.4 L1540.3 922.3 L1541.1 925.2 L1541.9 928.1 L1542.7 931.0 L1543.5 933.9 L1544.3 936.8 L1545.1 939.7 L1545.9 942.6 L1546.7 945.5 L1547.4 948.4 L1548.2 951.3 L1549.0 954.2 L1549.8 957.1 L1550.6 960.0 L1551.4 962.9 L1552.1 965.8 L1552.9 968.7 L1553.7 971.6 L1554.5 974.5 L1555.2 977.4 L1556.0 980.3 L1556.8 983.2 L1557.6 986.1 L1558.3 989.0 L1559.1 991.9 L1559.9 994.8 L1560.6 997.7 L1561.4 1000.6 L1562.1 1003.5 L1562.9 1006.4 L1563.7 1009.3 L1564.4 1012.1 L1565.2 1015.0 L1565.9 1017.9 L1566.7 1020.8 L1567.5 1023.7 L1568.2 1026.6 L1569.0 1029.5 L1569.7 1032.4 L1570.5 1035.3 L1571.3 1038.2 L1572.0 1041.1 L1572.8 1044.0 L1573.6 1046.9 L1574.3 1049.7 L1575.1 1052.6 L1575.9 1055.5 L1576.6 1058.4 L1577.4 1061.3 L1578.2 1064.2 L1579.0 1067.1 L1579.8 1069.9 L1580.5 1072.8 L1581.3 1075.7 L1582.1 1078.6 L1582.9 1081.5 L1583.7 1084.4 L1584.5 1087.3 L1585.3 1090.1 L1586.1 1093.0 L1586.9 1095.9 L1587.8 1098.8 L1588.6 1101.7 L1589.4 1104.5 L1590.2 1107.4 L1591.1 1110.3 L1591.9 1113.2 L1592.8 1116.0 L1593.6 1118.9 L1594.5 1121.8 L1595.3 1124.7 L1596.2 1127.6 L1597.1 1130.4 L1598.0 1133.3 L1598.8 1136.2 L1599.7 1139.0 L1600.6 1141.9 L1601.5 1144.8 L1602.4 1147.7 L1603.4 1150.5 L1604.3 1153.4 L1605.2 1156.3 L1606.2 1159.1 L1607.1 1162.0 L1608.1 1164.9 L1609.0 1167.7 L1610.0 1170.6 L1611.0 1173.5 L1612.0 1176.3 L1613.0 1179.2 L1614.0 1182.0 L1615.0 1184.9 L1616.1 1187.7 L1617.1 1190.6 L1618.2 1193.4 L1619.2 1196.3 L1620.3 1199.1 L1621.4 1201.9 L1622.5 1204.7 L1623.6 1207.5 L1624.7 1210.4 L1625.9 1213.2 L1627.0 1215.9 L1628.2 1218.7 L1629.4 1221.5 L1630.6 1224.3 L1631.8 1227.1 L1633.0 1229.8 L1634.2 1232.6 L1635.5 1235.3 L1636.8 1238.0 L1638.0 1240.8 L1639.3 1243.5 L1640.7 1246.2 L1642.0 1248.9 L1643.3 1251.5 L1644.7 1254.2 L1646.1 1256.9 L1647.5 1259.5 L1648.9 1262.2 L1650.4 1264.8 L1651.8 1267.4 L1653.3 1270.0 L1654.8 1272.6 L1656.3 1275.2 L1657.9 1277.7 L1659.4 1280.3 L1661.0 1282.8 L1662.6 1285.3 L1664.2 1287.8 L1665.8 1290.3 L1667.5 1292.8 L1669.2 1295.2 L1670.9 1297.7 L1672.6 1300.1 L1674.4 1302.5 L1676.1 1304.9 L1677.9 1307.3 L1679.8 1309.6 L1681.6 1312.0 L1683.5 1314.3 L1685.3 1316.6 L1687.3 1318.9 L1689.2 1321.2 L1691.1 1323.4 L1693.1 1325.7 L1695.1 1327.9 L1697.1 1330.1 L1699.1 1332.3 L1701.2 1334.5 L1703.2 1336.7 L1705.3 1338.8 L1707.4 1340.9 L1709.5 1343.1 L1711.7 1345.2 L1713.8 1347.2 L1716.0 1349.3 L1718.2 1351.4 L1720.4 1353.4 L1722.6 1355.4 L1724.8 1357.5 L1727.1 1359.4 L1729.4 1361.4 L1731.6 1363.4 L1733.9 1365.3 L1736.2 1367.3 L1738.5 1369.2 L1740.9 1371.1 L1743.2 1373.0 L1745.6 1374.9 L1747.9 1376.8 L1750.3 1378.6 L1752.7 1380.5 L1755.1 1382.3 L1757.5 1384.1 L1760.0 1385.9 L1762.4 1387.7 L1764.8 1389.5 L1767.3 1391.2 L1769.7 1393.0 L1772.2 1394.7 L1774.7 1396.4 L1777.2 1398.1 L1779.7 1399.8 L1782.2 1401.5 L1784.7 1403.2 L1787.2 1404.8 L1789.7 1406.5 L1792.2 1408.1 L1794.8 1409.7 L1797.3 1411.3 L1799.8 1412.9 L1802.4 1414.5 L1804.9 1416.1 L1807.5 1417.7 L1810.1 1419.2 L1812.6 1420.8 L1815.2 1422.3 L1817.8 1423.9 L1820.4 1425.4 L1823.0 1426.9 L1825.6 1428.4 L1828.2 1429.9 L1830.8 1431.4 L1833.4 1432.8 L1836.0 1434.3 L1838.6 1435.8 L1841.2 1437.2 L1843.8 1438.7 L1846.4 1440.1 L1849.1 1441.6 L1851.7 1443.0 L1854.3 1444.4 L1857.0 1445.9 L1859.6 1447.3 L1862.3 1448.7 L1864.9 1450.1 L1867.5 1451.5 L1870.2 1452.9 L1872.8 1454.3 L1875.5 1455.7 L1878.1 1457.1 L1880.8 1458.5 L1883.5 1459.9 L1886.1 1461.3 L1888.8 1462.7 L1891.4 1464.1 L1894.1 1465.5 L1896.8 1466.8 L1899.4 1468.2 L1902.1 1469.6 L1904.8 1471.0 L1907.4 1472.4 L1910.1 1473.8 L1912.8 1475.1 L1915.4 1476.5 L1918.1 1477.9 L1920.8 1479.3 L1923.4 1480.7 L1926.1 1482.1 L1928.8 1483.5 L1931.4 1484.9 L1934.1 1486.3 L1936.8 1487.7 L1939.4 1489.1 L1942.1 1490.4 L1944.8 1491.8 L1947.4 1493.2 L1950.1 1494.6 L1952.8 1495.9 L1955.5 1497.3 L1958.2 1498.7 L1960.9 1500.0 L1963.5 1501.3 L1966.2 1502.7 L1968.9 1504.0 L1971.6 1505.3 L1974.3 1506.6 L1977.1 1507.9 L1979.8 1509.2 L1982.5 1510.5 L1985.2 1511.7 L1987.9 1512.9 L1990.7 1514.2 L1993.4 1515.4 L1996.2 1516.6 L1998.9 1517.8 L2001.7 1518.9 L2004.4 1520.1 L2007.2 1521.2 L2010.0 1522.3 L2012.8 1523.4 L2015.6 1524.5 L2018.4 1525.5 L2021.2 1526.5 L2024.0 1527.5 L2026.8 1528.5 L2029.7 1529.5 L2032.5 1530.4 L2035.3 1531.4 L2038.2 1532.3 L2041.1 1533.2 L2043.9 1534.0 L2046.8 1534.9 L2049.7 1535.7 L2052.6 1536.5 L2055.4 1537.3 L2058.3 1538.1 L2061.2 1538.9 L2064.1 1539.6 L2067.1 1540.4 L2070.0 1541.1 L2072.9 1541.8 L2075.8 1542.5 L2078.7 1543.2 L2081.7 1543.8 L2084.6 1544.5 L2087.5 1545.1 L2090.5 1545.7 L2093.4 1546.3 L2096.4 1546.9 L2099.3 1547.5 L2102.3 1548.1 L2105.2 1548.6 L2108.2 1549.2 L2111.1 1549.7 L2114.1 1550.3 L2117.1 1550.8 L2120.0 1551.3 L2123.0 1551.8 L2126.0 1552.3 L2128.9 1552.8 L2131.9 1553.3 L2134.9 1553.7 L2137.8 1554.2 L2140.8 1554.6 L2143.8 1555.1 L2146.7 1555.5 L2149.7 1555.9 L2152.7 1556.4 L2155.7 1556.8 L2158.6 1557.2 L2161.6 1557.6 L2164.6 1558.0 L2167.6 1558.4 L2170.6 1558.8 L2173.5 1559.1 L2176.5 1559.5 L2179.5 1559.9 L2182.5 1560.2 L2185.5 1560.6 L2188.4 1561.0 L2191.4 1561.3 L2194.4 1561.6 L2197.4 1562.0 L2200.4 1562.3 L2203.4 1562.7 L2206.4 1563.0 L2209.3 1563.3 L2212.3 1563.6 L2215.3 1564.0 L2218.3 1564.3 L2221.3 1564.6 L2224.3 1564.9 L2227.3 1565.2 L2230.2 1565.6 L2233.2 1565.9 L2236.2 1566.2 L2239.2 1566.5 L2242.2 1566.8 L2245.2 1567.1 L2248.2 1567.4 L2251.2 1567.7 L2254.1 1568.0 L2257.1 1568.4 L2260.1 1568.7 L2263.1 1569.0 L2266.1 1569.3 L2269.1 1569.6 L2272.1 1569.9 L2275.0 1570.2 L2278.0 1570.6 L2281.0 1570.9 L2284.0 1571.2 L2287.0 1571.5 L2290.0 1571.9 L2292.9 1572.2 L2295.9 1572.5 L2298.9 1572.9 L2301.9 1573.2 L2304.9 1573.6 L2307.8 1573.9 L2310.8 1574.3 L2313.8 1574.6 L2316.8 1575.0 L2319.7 1575.4" stroke="#ff00ff" stroke-dasharray="25.5 19 3.5 18.7"/>
<path d="M322.8 184.3 L325.7 184.8 L328.6 185.3 L331.6 185.8 L334.5 186.3 L337.5 186.7 L340.4 187.2 L343.4 187.6 L346.3 188.0 L349.3 188.5 L352.3 188.8 L355.2 189.2 L358.2 189.6 L361.2 189.9 L364.1 190.3 L367.1 190.6 L370.1 190.9 L373.0 191.2 L376.0 191.5 L379.0 191.8 L382.0 192.1 L384.9 192.3 L387.9 192.6 L390.9 192.8 L393.9 193.0 L396.9 193.2 L399.9 193.5 L402.9 193.7 L405.8 193.8 L408.8 194.0 L411.8 194.2 L414.8 194.4 L417.8 194.5 L420.8 194.7 L423.8 194.8 L426.8 194.9 L429.8 195.1 L432.8 195.2 L435.8 195.3 L438.8 195.4 L441.8 195.5 L444.8 195.6 L447.8 195.7 L450.8 195.8 L453.8 195.9 L456.8 195.9 L459.8 196.0 L462.8 196.1 L465.8 196.2 L468.9 196.2 L471.9 196.3 L474.9 196.3 L477.9 196.4 L480.9 196.4 L483.9 196.5 L486.9 196.5 L489.9 196.6 L492.9 196.6 L495.9 196.7 L498.9 196.7 L502.0 196.8 L505.0 196.8 L508.0 196.8 L511.0 196.9 L514.0 196.9 L517.0 197.0 L520.0 197.0 L523.0 197.1 L526.0 197.1 L529.0 197.2 L532.0 197.2 L535.1 197.3 L538.1 197.4 L541.1 197.4 L544.1 197.5 L547.1 197.6 L550.1 197.6 L553.1 197.7 L556.1 197.8 L559.1 197.9 L562.1 197.9 L565.1 198.0 L568.1 198.1 L571.1 198.2 L574.1 198.3 L577.1 198.4 L580.1 198.5 L583.1 198.6 L586.1 198.7 L589.1 198.8 L592.1 198.9 L595.1 199.0 L598.1 199.1 L601.1 199.2 L604.1 199.3 L607.1 199.4 L610.1 199.6 L613.1 199.7 L616.1 199.8 L619.1 199.9 L622.1 200.1 L625.1 200.2 L628.1 200.3 L631.1 200.4 L634.1 200.6 L637.1 200.7 L640.1 200.8 L643.1 201.0 L646.1 201.1 L649.1 201.2 L652.1 201.4 L655.1 201.5 L658.0 201.7 L661.0 201.8 L664.0 202.0 L667.0 202.1 L670.0 202.3 L673.0 202.4 L676.0 202.6 L679.0 202.7 L682.0 202.9 L685.0 203.0 L688.0 203.2 L691.0 203.3 L694.0 203.5 L697.0 203.6 L700.0 203.8 L702.9 204.0 L705.9 204.1 L708.9 204.3 L711.9 204.5 L714.9 204.6 L717.9 204.8 L720.9 204.9 L723.9 205.1 L726.9 205.3 L729.9 205.4 L732.9 205.6 L735.9 205.8 L738.9 205.9 L741.8 206.1 L744.8 206.3 L747.8 206.4 L750.8 206.6 L753.8 206.8 L756.8 207.0 L759.8 207.1 L762.8 207.3 L765.8 207.5 L768.8 207.6 L771.8 207.8 L774.8 208.0 L777.7 208.1 L780.7 208.3 L783.7 208.5 L786.7 208.7 L789.7 208.8 L792.7 209.0 L795.7 209.2 L798.7 209.3 L801.7 209.5 L804.7 209.7 L807.7 209.8 L810.7 210.0 L813.7 210.2 L816.7 210.3 L819.6 210.5 L822.6 210.7 L825.6 210.8 L828.6 211.0 L831.6 211.2 L834.6 211.3 L837.6 211.5 L840.6 211.6 L843.6 211.8 L846.6 212.0 L849.6 212.1 L852.6 212.3 L855.6 212.4 L858.6 212.6 L861.6 212.7 L864.6 212.9 L867.6 213.1 L870.6 213.2 L873.6 213.4 L876.6 213.5 L879.6 213.7 L882.6 213.8 L885.6 213.9 L888.6 214.1 L891.6 214.2 L894.6 214.4 L897.6 214.5 L900.6 214.7 L903.6 214.8 L906.6 214.9 L909.6 215.1 L912.6 215.2 L915.6 215.3 L918.6 215.5 L921.6 215.6 L924.6 215.7 L927.6 215.8 L930.6 216.0 L933.6 216.1 L936.6 216.2 L939.6 216.4 L942.6 216.5 L945.6 216.6 L948.6 216.7 L951.6 216.9 L954.6 217.0 L957.6 217.1 L960.6 217.3 L963.6 217.4 L966.6 217.5 L969.6 217.7 L972.7 217.8 L975.7 217.9 L978.7 218.1 L981.7 218.2 L984.7 218.3 L987.7 218.5 L990.7 218.6 L993.7 218.8 L996.7 218.9 L999.7 219.1 L1002.7 219.2 L1005.7 219.4 L1008.7 219.5 L1011.7 219.7 L1014.7 219.8 L1017.7 220.0 L1020.7 220.2 L1023.7 220.3 L1026.7 220.5 L1029.7 220.7 L1032.7 220.9 L1035.7 221.0 L1038.7 221.2 L1041.7 221.4 L1044.7 221.6 L1047.7 221.8 L1050.7 222.0 L1053.7 222.2 L1056.7 222.4 L1059.7 222.6 L1062.7 222.8 L1065.7 223.1 L1068.7 223.3 L1071.7 223.5 L1074.7 223.8 L1077.7 224.0 L1080.7 224.2 L1083.7 224.5 L1086.7 224.7 L1089.7 225.0 L1092.7 225.3 L1095.7 225.5 L1098.7 225.8 L1101.7 226.1 L1104.7 226.4 L1107.7 226.7 L1110.7 227.0 L1113.7 227.3 L1116.6 227.6 L1119.6 227.9 L1122.6 228.3 L1125.6 228.6 L1128.6 228.9 L1131.6 229.3 L1134.6 229.7 L1137.5 230.0 L1140.5 230.4 L1143.5 230.8 L1146.5 231.1 L1149.5 231.5 L1152.5 231.9 L1155.4 232.3 L1158.4 232.8 L1161.4 233.2 L1164.4 233.6 L1167.4 234.1 L1170.3 234.5 L1173.3 235.0 L1176.3 235.4 L1179.2 235.9 L1182.2 236.4 L1185.2 236.9 L1188.2 237.4 L1191.1 237.9 L1194.1 238.4 L1197.1 239.0 L1200.0 239.5 L1203.0 240.1 L1205.9 240.7 L1208.8 241.4 L1211.7 242.1 L1214.6 242.8 L1217.5 243.6 L1220.4 244.4 L1223.2 245.2 L1226.0 246.1 L1228.8 247.1 L1231.6 248.1 L1234.4 249.2 L1237.1 250.3 L1239.8 251.4 L1242.5 252.7 L1245.2 253.9 L1247.9 255.2 L1250.5 256.6 L1253.1 258.0 L1255.7 259.4 L1258.2 260.9 L1260.8 262.4 L1263.3 264.0 L1265.8 265.6 L1268.3 267.2 L1270.7 268.9 L1273.1 270.6 L1275.5 272.4 L1277.9 274.2 L1280.3 276.0 L1282.6 277.8 L1284.9 279.7 L1287.2 281.7 L1289.5 283.6 L1291.7 285.6 L1293.9 287.6 L1296.1 289.7 L1298.2 291.8 L1300.4 293.9 L1302.5 296.0 L1304.6 298.2 L1306.7 300.3 L1308.7 302.6 L1310.7 304.8 L1312.7 307.0 L1314.7 309.3 L1316.6 311.6 L1318.5 313.9 L1320.4 316.2 L1322.3 318.6 L1324.1 321.0 L1325.9 323.3 L1327.7 325.8 L1329.4 328.2 L1331.2 330.6 L1332.9 333.1 L1334.6 335.5 L1336.3 338.0 L1337.9 340.5 L1339.5 343.0 L1341.1 345.5 L1342.7 348.1 L1344.2 350.6 L1345.8 353.2 L1347.3 355.8 L1348.8 358.4 L1350.3 361.0 L1351.7 363.6 L1353.2 366.2 L1354.6 368.9 L1356.0 371.5 L1357.3 374.2 L1358.7 376.9 L1360.1 379.6 L1361.4 382.3 L1362.7 385.0 L1364.0 387.7 L1365.3 390.4 L1366.5 393.2 L1367.8 395.9 L1369.0 398.7 L1370.2 401.4 L1371.4 404.2 L1372.6 407.0 L1373.8 409.8 L1374.9 412.6 L1376.1 415.4 L1377.2 418.2 L1378.3 421.0 L1379.5 423.8 L1380.6 426.6 L1381.6 429.4 L1382.7 432.3 L1383.8 435.1 L1384.8 438.0 L1385.9 440.8 L1386.9 443.7 L1388.0 446.5 L1389.0 449.4 L1390.0 452.2 L1391.0 455.1 L1392.0 458.0 L1393.0 460.8 L1393.9 463.7 L1394.9 466.6 L1395.9 469.4 L1396.8 472.3 L1397.8 475.2 L1398.7 478.0 L1399.7 480.9 L1400.6 483.8 L1401.6 486.7 L1402.5 489.5 L1403.4 492.4 L1404.3 495.3 L1405.3 498.1 L1406.2 501.0 L1407.1 503.9 L1408.0 506.7 L1408.9 509.6 L1409.8 512.5 L1410.7 515.4 L1411.6 518.2 L1412.4 521.1 L1413.3 524.0 L1414.2 526.8 L1415.1 529.7 L1416.0 532.6 L1416.8 535.4 L1417.7 538.3 L1418.6 541.2 L1419.4 544.1 L1420.3 546.9 L1421.2 549.8 L1422.0 552.7 L1422.9 555.5 L1423.7 558.4 L1424.6 561.3 L1425.4 564.1 L1426.3 567.0 L1427.1 569.9 L1428.0 572.7 L1428.8 575.6 L1429.7 578.5 L1430.5 581.3 L1431.4 584.2 L1432.2 587.1 L1433.1 589.9 L1433.9 592.8 L1434.7 595.7 L1435.6 598.5 L1436.4 601.4 L1437.3 604.3 L1438.1 607.1 L1439.0 610.0 L1439.8 612.9 L1440.7 615.7 L1441.5 618.6 L1442.4 621.5 L1443.2 624.3 L1444.1 627.2 L1444.9 630.1 L1445.8 632.9 L1446.7 635.8 L1447.5 638.7 L1448.4 641.5 L1449.2 644.4 L1450.1 647.3 L1451.0 650.1 L1451.8 653.0 L1452.7 655.8 L1453.6 658.7 L1454.4 661.6 L1455.3 664.4 L1456.2 667.3 L1457.0 670.2 L1457.9 673.0 L1458.8 675.9 L1459.6 678.8 L1460.5 681.6 L1461.4 684.5 L1462.3 687.3 L1463.1 690.2 L1464.0 693.1 L1464.9 695.9 L1465.8 698.8 L1466.6 701.7 L1467.5 704.5 L1468.4 707.4 L1469.3 710.3 L1470.2 713.1 L1471.0 716.0 L1471.9 718.8 L1472.8 721.7 L1473.7 724.6 L1474.5 727.4 L1475.4 730.3 L1476.3 733.2 L1477.2 736.0 L1478.1 738.9 L1478.9 741.8 L1479.8 744.6 L1480.7 747.5 L1481.6 750.4 L1482.5 753.2 L1483.3 756.1 L1484.2 759.0 L1485.1 761.8 L1486.0 764.7 L1486.8 767.6 L1487.7 770.4 L1488.6 773.3 L1489.5 776.2 L1490.3 779.1 L1491.2 781.9 L1492.1 784.8 L1493.0 787.7 L1493.8 790.5 L1494.7 793.4 L1495.6 796.3 L1496.4 799.1 L1497.3 802.0 L1498.2 804.9 L1499.1 807.8 L1499.9 810.6 L1500.8 813.5 L1501.6 816.4 L1502.5 819.3 L1503.4 822.1 L1504.2 825.0 L1505.1 827.9 L1506.0 830.8 L1506.8 833.6 L1507.7 836.5 L1508.5 839.4 L1509.4 842.3 L1510.2 845.2 L1511.1 848.0 L1511.9 850.9 L1512.8 853.8 L1513.6 856.7 L1514.5 859.6 L1515.3 862.4 L1516.1 865.3 L1517.0 868.2 L1517.8 871.1 L1518.7 874.0 L1519.5 876.9 L1520.3 879.8 L1521.2 882.6 L1522.0 885.5 L1522.8 888.4 L1523.6 891.3 L1524.5 894.2 L1525.3 897.1 L1526.1 900.0 L1526.9 902.9 L1527.7 905.8 L1528.6 908.6 L1529.4 911.5 L1530.2 914.4 L1531.0 917.3 L1531.8 920.2 L1532.6 923.1 L1533.4 926.0 L1534.2 928.9 L1535.0 931.8 L1535.8 934.7 L1536.6 937.6 L1537.3 940.5 L1538.1 943.4 L1538.9 946.3 L1539.7 949.2 L1540.5 952.1 L1541.2 955.0 L1542.0 957.9 L1542.8 960.9 L1543.5 963.8 L1544.3 966.7 L1545.1 969.6 L1545.8 972.5 L1546.6 975.4 L1547.3 978.3 L1548.1 981.2 L1548.8 984.1 L1549.6 987.1 L1550.3 990.0 L1551.1 992.9 L1551.8 995.8 L1552.5 998.7 L1553.3 1001.6 L1554.0 1004.6 L1554.7 1007.5 L1555.5 1010.4 L1556.2 1013.3 L1556.9 1016.2 L1557.7 1019.1 L1558.4 1022.1 L1559.1 1025.0 L1559.8 1027.9 L1560.6 1030.8 L1561.3 1033.7 L1562.0 1036.6 L1562.8 1039.6 L1563.5 1042.5 L1564.2 1045.4 L1565.0 1048.3 L1565.7 1051.2 L1566.4 1054.1 L1567.2 1057.1 L1567.9 1060.0 L1568.7 1062.9 L1569.4 1065.8 L1570.1 1068.7 L1570.9 1071.6 L1571.6 1074.5 L1572.4 1077.4 L1573.1 1080.3 L1573.9 1083.2 L1574.7 1086.1 L1575.4 1089.0 L1576.2 1091.9 L1577.0 1094.8 L1577.8 1097.7 L1578.5 1100.6 L1579.3 1103.5 L1580.1 1106.4 L1580.9 1109.3 L1581.7 1112.2 L1582.5 1115.1 L1583.3 1118.0 L1584.1 1120.9 L1584.9 1123.8 L1585.8 1126.6 L1586.6 1129.5 L1587.4 1132.4 L1588.3 1135.3 L1589.1 1138.1 L1590.0 1141.0 L1590.8 1143.9 L1591.7 1146.7 L1592.6 1149.6 L1593.5 1152.5 L1594.3 1155.3 L1595.2 1158.2 L1596.1 1161.0 L1597.0 1163.9 L1598.0 1166.7 L1598.9 1169.6 L1599.8 1172.4 L1600.8 1175.2 L1601.7 1178.1 L1602.7 1180.9 L1603.6 1183.7 L1604.6 1186.6 L1605.6 1189.4 L1606.6 1192.2 L1607.6 1195.0 L1608.6 1197.8 L1609.6 1200.6 L1610.6 1203.4 L1611.7 1206.2 L1612.7 1209.0 L1613.8 1211.8 L1614.9 1214.6 L1615.9 1217.4 L1617.0 1220.2 L1618.1 1223.0 L1619.3 1225.7 L1620.4 1228.5 L1621.5 1231.3 L1622.7 1234.0 L1623.8 1236.8 L1625.0 1239.5 L1626.2 1242.3 L1627.4 1245.0 L1628.6 1247.8 L1629.8 1250.5 L1631.0 1253.2 L1632.3 1256.0 L1633.5 1258.7 L1634.8 1261.4 L1636.1 1264.1 L1637.4 1266.8 L1638.7 1269.5 L1640.0 1272.2 L1641.4 1274.9 L1642.7 1277.6 L1644.1 1280.3 L1645.5 1283.0 L1646.9 1285.6 L1648.3 1288.3 L1649.7 1291.0 L1651.1 1293.6 L1652.6 1296.3 L1654.1 1298.9 L1655.6 1301.5 L1657.1 1304.1 L1658.6 1306.7 L1660.1 1309.3 L1661.7 1311.9 L1663.2 1314.5 L1664.8 1317.1 L1666.4 1319.6 L1668.0 1322.2 L1669.6 1324.7 L1671.3 1327.2 L1673.0 1329.7 L1674.6 1332.2 L1676.3 1334.7 L1678.1 1337.2 L1679.8 1339.6 L1681.5 1342.1 L1683.3 1344.5 L1685.1 1346.9 L1686.9 1349.3 L1688.7 1351.7 L1690.6 1354.0 L1692.4 1356.4 L1694.3 1358.7 L1696.2 1361.0 L1698.1 1363.3 L1700.1 1365.6 L1702.0 1367.8 L1704.0 1370.0 L1706.0 1372.3 L1708.0 1374.5 L1710.1 1376.6 L1712.1 1378.8 L1714.2 1380.9 L1716.3 1383.0 L1718.4 1385.1 L1720.6 1387.2 L1722.7 1389.2 L1724.9 1391.3 L1727.1 1393.3 L1729.3 1395.2 L1731.6 1397.2 L1733.8 1399.1 L1736.1 1401.0 L1738.4 1402.9 L1740.7 1404.8 L1743.1 1406.6 L1745.4 1408.5 L1747.8 1410.3 L1750.2 1412.1 L1752.6 1413.8 L1755.0 1415.6 L1757.5 1417.3 L1759.9 1419.1 L1762.4 1420.8 L1764.8 1422.5 L1767.3 1424.2 L1769.8 1425.8 L1772.3 1427.5 L1774.9 1429.1 L1777.4 1430.8 L1779.9 1432.4 L1782.5 1434.0 L1785.0 1435.6 L1787.6 1437.2 L1790.2 1438.8 L1792.8 1440.3 L1795.4 1441.9 L1798.0 1443.4 L1800.6 1445.0 L1803.2 1446.5 L1805.8 1448.1 L1808.4 1449.6 L1811.0 1451.1 L1813.6 1452.6 L1816.3 1454.2 L1818.9 1455.7 L1821.5 1457.2 L1824.1 1458.7 L1826.8 1460.2 L1829.4 1461.7 L1832.0 1463.2 L1834.7 1464.7 L1837.3 1466.2 L1839.9 1467.8 L1842.5 1469.3 L1845.1 1470.8 L1847.7 1472.3 L1850.4 1473.8 L1853.0 1475.3 L1855.6 1476.9 L1858.2 1478.4 L1860.8 1479.9 L1863.4 1481.4 L1866.0 1482.9 L1868.6 1484.4 L1871.2 1486.0 L1873.8 1487.5 L1876.4 1489.0 L1879.0 1490.5 L1881.6 1492.0 L1884.2 1493.5 L1886.8 1495.0 L1889.4 1496.5 L1892.0 1498.0 L1894.6 1499.5 L1897.2 1501.0 L1899.8 1502.5 L1902.4 1504.0 L1905.0 1505.4 L1907.6 1506.9 L1910.2 1508.4 L1912.8 1509.8 L1915.4 1511.3 L1918.0 1512.7 L1920.6 1514.1 L1923.3 1515.6 L1925.9 1517.0 L1928.5 1518.4 L1931.2 1519.8 L1933.8 1521.2 L1936.4 1522.6 L1939.1 1523.9 L1941.7 1525.3 L1944.4 1526.7 L1947.1 1528.0 L1949.7 1529.3 L1952.4 1530.7 L1955.1 1532.0 L1957.8 1533.3 L1960.4 1534.6 L1963.1 1535.8 L1965.8 1537.1 L1968.6 1538.4 L1971.3 1539.6 L1974.0 1540.8 L1976.7 1542.0 L1979.5 1543.2 L1982.2 1544.4 L1985.0 1545.6 L1987.7 1546.7 L1990.5 1547.9 L1993.3 1549.0 L1996.1 1550.1 L1998.9 1551.2 L2001.7 1552.3 L2004.5 1553.3 L2007.3 1554.4 L2010.1 1555.4 L2012.9 1556.4 L2015.7 1557.4 L2018.6 1558.4 L2021.4 1559.4 L2024.3 1560.3 L2027.1 1561.3 L2030.0 1562.2 L2032.8 1563.1 L2035.7 1564.0 L2038.6 1564.9 L2041.5 1565.8 L2044.4 1566.7 L2047.2 1567.5 L2050.1 1568.3 L2053.0 1569.1 L2055.9 1570.0 L2058.8 1570.7 L2061.7 1571.5 L2064.6 1572.3 L2067.6 1573.0 L2070.5 1573.7 L2073.4 1574.5 L2076.3 1575.2 L2079.2 1575.8 L2082.2 1576.5 L2085.1 1577.2 L2088.0 1577.8 L2091.0 1578.5 L2093.9 1579.1 L2096.8 1579.7 L2099.8 1580.3 L2102.7 1580.9 L2105.7 1581.4 L2108.6 1582.0 L2111.6 1582.5 L2114.5 1583.1 L2117.5 1583.6 L2120.4 1584.1 L2123.4 1584.6 L2126.3 1585.1 L2129.3 1585.6 L2132.3 1586.1 L2135.2 1586.5 L2138.2 1587.0 L2141.1 1587.4 L2144.1 1587.9 L2147.1 1588.3 L2150.0 1588.8 L2153.0 1589.2 L2156.0 1589.6 L2159.0 1590.0 L2161.9 1590.4 L2164.9 1590.8 L2167.9 1591.2 L2170.9 1591.6 L2173.8 1591.9 L2176.8 1592.3 L2179.8 1592.7 L2182.8 1593.0 L2185.8 1593.4 L2188.7 1593.8 L2191.7 1594.1 L2194.7 1594.5 L2197.7 1594.8 L2200.7 1595.2 L2203.6 1595.5 L2206.6 1595.9 L2209.6 1596.2 L2212.6 1596.5 L2215.6 1596.9 L2218.6 1597.2 L2221.5 1597.5 L2224.5 1597.9 L2227.5 1598.2 L2230.5 1598.6 L2233.5 1598.9 L2236.5 1599.2 L2239.5 1599.6 L2242.4 1599.9 L2245.4 1600.3 L2248.4 1600.6 L2251.4 1601.0 L2254.4 1601.3 L2257.3 1601.7 L2260.3 1602.0 L2263.3 1602.4 L2266.3 1602.8 L2269.3 1603.1 L2272.2 1603.5 L2275.2 1603.9 L2278.2 1604.3 L2281.2 1604.7 L2284.1 1605.1 L2287.1 1605.5 L2290.1 1605.9 L2293.1 1606.3 L2296.0 1606.7 L2299.0 1607.2 L2302.0 1607.6 L2304.9 1608.0 L2307.9 1608.5 L2310.9 1609.0 L2313.8 1609.4 L2316.8 1609.9 L2319.7 1610.4" stroke="#007400" stroke-dasharray="22 24 3.5 19.4 3.5 23.3"/>
</g>
<rect x="355" y="165.8" width="11" height="3.6" fill="#b4b4b4"/><rect x="444.5" y="165.8" width="11.5" height="3.6" fill="#b4b4b4"/>
<g stroke="#000" stroke-width="8.7" stroke-linecap="round" fill="none">
<rect x="323.1" y="47.1" width="1996.6" height="1638.9" stroke-linejoin="miter"/>
<line x1="323.1" y1="1686.0" x2="308.5" y2="1686.0"/>
<line x1="323.1" y1="1549.4" x2="292.0" y2="1549.4"/>
<line x1="323.1" y1="1412.8" x2="308.5" y2="1412.8"/>
<line x1="323.1" y1="1276.3" x2="292.0" y2="1276.3"/>
<line x1="323.1" y1="1139.7" x2="308.5" y2="1139.7"/>
<line x1="323.1" y1="1003.1" x2="292.0" y2="1003.1"/>
<line x1="323.1" y1="866.6" x2="308.5" y2="866.6"/>
<line x1="323.1" y1="730.0" x2="292.0" y2="730.0"/>
<line x1="323.1" y1="593.4" x2="308.5" y2="593.4"/>
<line x1="323.1" y1="456.8" x2="292.0" y2="456.8"/>
<line x1="323.1" y1="320.2" x2="308.5" y2="320.2"/>
<line x1="323.1" y1="183.7" x2="292.0" y2="183.7"/>
<line x1="323.1" y1="47.1" x2="308.5" y2="47.1"/>
<line x1="346.3" y1="1686.0" x2="346.3" y2="1700.8"/>
<line x1="462.4" y1="1686.0" x2="462.4" y2="1716.2"/>
<line x1="578.5" y1="1686.0" x2="578.5" y2="1700.8"/>
<line x1="694.6" y1="1686.0" x2="694.6" y2="1716.2"/>
<line x1="810.6" y1="1686.0" x2="810.6" y2="1700.8"/>
<line x1="926.7" y1="1686.0" x2="926.7" y2="1716.2"/>
<line x1="1042.8" y1="1686.0" x2="1042.8" y2="1700.8"/>
<line x1="1158.9" y1="1686.0" x2="1158.9" y2="1716.2"/>
<line x1="1275.0" y1="1686.0" x2="1275.0" y2="1700.8"/>
<line x1="1391.0" y1="1686.0" x2="1391.0" y2="1716.2"/>
<line x1="1507.1" y1="1686.0" x2="1507.1" y2="1700.8"/>
<line x1="1623.2" y1="1686.0" x2="1623.2" y2="1716.2"/>
<line x1="1739.3" y1="1686.0" x2="1739.3" y2="1700.8"/>
<line x1="1855.4" y1="1686.0" x2="1855.4" y2="1716.2"/>
<line x1="1971.5" y1="1686.0" x2="1971.5" y2="1700.8"/>
<line x1="2087.5" y1="1686.0" x2="2087.5" y2="1716.2"/>
<line x1="2203.6" y1="1686.0" x2="2203.6" y2="1700.8"/>
<line x1="2319.7" y1="1686.0" x2="2319.7" y2="1716.2"/>
</g>
<g fill="#000">
<text font-size="82.5" text-anchor="end" transform="translate(267.4 1574.7) scale(1 1.06)">50</text>
<text font-size="82.5" text-anchor="end" transform="translate(267.4 1301.6) scale(1 1.06)">60</text>
<text font-size="82.5" text-anchor="end" transform="translate(267.4 1028.4) scale(1 1.06)">70</text>
<text font-size="82.5" text-anchor="end" transform="translate(267.4 755.3) scale(1 1.06)">80</text>
<text font-size="82.5" text-anchor="end" transform="translate(267.4 482.1) scale(1 1.06)">90</text>
<text font-size="82.5" transform="translate(267.4 209.0) scale(1 1.06)"><tspan x="-134.65">1</tspan><tspan x="-91.77">00</tspan></text>
<text font-size="82.7" transform="translate(460.7 1806.7) scale(1 1.066)"><tspan x="-65.99">1</tspan><tspan x="-23.00">00</tspan></text>
<text font-size="82.7" text-anchor="middle" transform="translate(692.9 1806.7) scale(1 1.066)">200</text>
<text font-size="82.7" text-anchor="middle" transform="translate(925.0 1806.7) scale(1 1.066)">300</text>
<text font-size="82.7" text-anchor="middle" transform="translate(1157.2 1806.7) scale(1 1.066)">400</text>
<text font-size="82.7" text-anchor="middle" transform="translate(1389.3 1806.7) scale(1 1.066)">500</text>
<text font-size="82.7" text-anchor="middle" transform="translate(1621.5 1806.7) scale(1 1.066)">600</text>
<text font-size="82.7" text-anchor="middle" transform="translate(1853.7 1806.7) scale(1 1.066)">700</text>
<text font-size="82.7" text-anchor="middle" transform="translate(2085.8 1806.7) scale(1 1.066)">800</text>
<text font-size="82.7" text-anchor="middle" transform="translate(2318.0 1806.7) scale(1 1.066)">900</text>
</g>
<rect x="136.7" y="199.5" width="15.1" height="10.9" fill="#fff"/><rect x="163.5" y="199.5" width="14.2" height="10.9" fill="#fff"/>
<rect x="398.7" y="1797.1" width="15.1" height="11.0" fill="#fff"/><rect x="425.6" y="1797.1" width="14.2" height="11.0" fill="#fff"/>
<text font-size="108.1" transform="translate(115.0 1387.9) rotate(-90) scale(1 1.035)">Weight percentage (%)</text>
<text font-size="107" transform="translate(892.5 1957.6) scale(1 1.07)">Temperature (<tspan font-size="66" dy="-48">o</tspan><tspan dy="48">C)</tspan></text>
<g fill="none" stroke-width="9.5" stroke-linecap="round">
<line x1="364.75" y1="1056.7" x2="553.25" y2="1056.7" stroke="#000"/>
<line x1="364.75" y1="1189.4" x2="553.25" y2="1189.4" stroke="#ff0000" stroke-dasharray="30.5 46"/>
<line x1="364.75" y1="1321.3" x2="553.25" y2="1321.3" stroke="#0000ff" stroke-dasharray="4.5 41.5"/>
<line x1="364.75" y1="1453.5" x2="553.25" y2="1453.5" stroke="#ff00ff" stroke-dasharray="36.5 28.2 3 29"/>
<line x1="364.75" y1="1586.0" x2="553.25" y2="1586.0" stroke="#007400" stroke-dasharray="25.2 28.3 3 29.2 3 27.7"/>
</g>
<text font-size="84" fill="#000" transform="translate(578.1 1087.3) scale(1 1.09)">LC-PI<tspan font-size="54" dx="-3" dy="29">I</tspan></text>
<text font-size="84" fill="#ff0000" transform="translate(578.1 1219.6) scale(1 1.09)">LC-PI<tspan font-size="54" dx="-3" dy="29">II</tspan></text>
<text font-size="84" fill="#0000ff" transform="translate(578.1 1351.9) scale(1 1.09)">LC-PI<tspan font-size="54" dx="-3" dy="29">III</tspan></text>
<text font-size="84" fill="#ff00ff" transform="translate(578.1 1484.2) scale(1 1.09)">LC-PI<tspan font-size="54" dx="-3" dy="29">IV</tspan></text>
<text font-size="84" fill="#007400" transform="translate(573.4 1616.2) scale(1 1.09)">LC-PI<tspan font-size="54" dx="-3" dy="29">V</tspan></text>
</svg></body></html>
